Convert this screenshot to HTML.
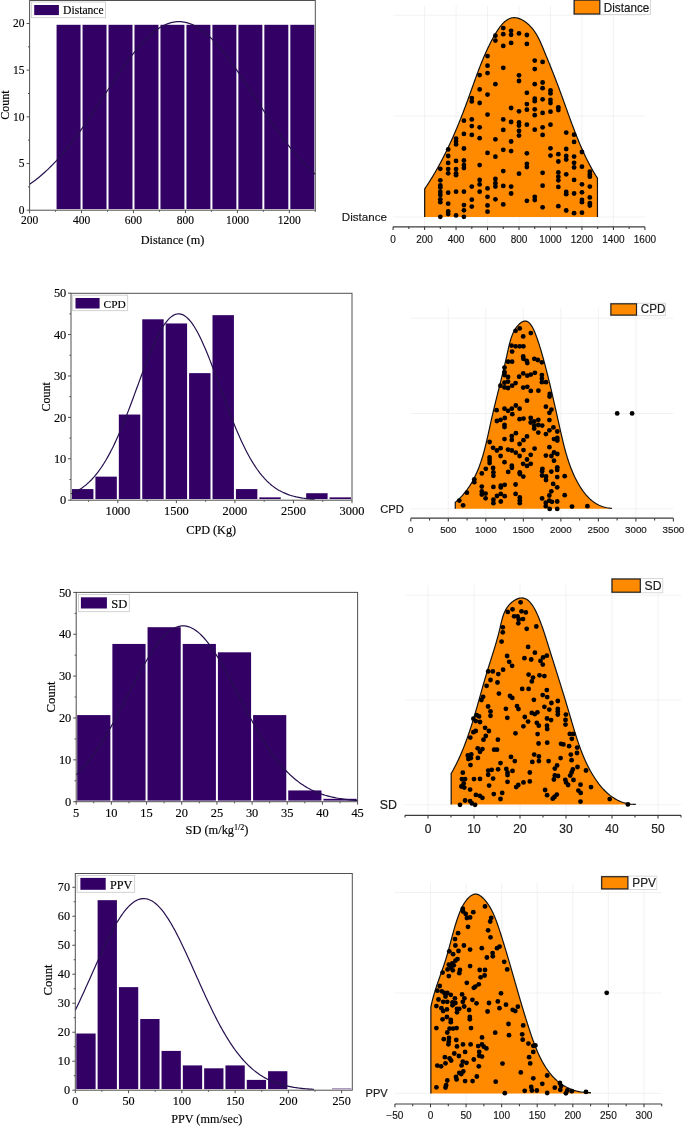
<!DOCTYPE html>
<html><head><meta charset="utf-8"><style>
html,body{margin:0;padding:0;background:#fff;}
svg{display:block;}
text{stroke:#000;stroke-width:0.15px;}
</style></head><body>
<svg width="685" height="1126" viewBox="0 0 685 1126">
<rect width="685" height="1126" fill="#fff"/>
<rect x="56.57" y="24.8" width="23.97" height="184.3" fill="#330066"/>
<rect x="82.55" y="24.8" width="23.97" height="184.3" fill="#330066"/>
<rect x="108.52" y="24.8" width="23.97" height="184.3" fill="#330066"/>
<rect x="134.49" y="24.8" width="23.97" height="184.3" fill="#330066"/>
<rect x="160.46" y="24.8" width="23.97" height="184.3" fill="#330066"/>
<rect x="186.44" y="24.8" width="23.97" height="184.3" fill="#330066"/>
<rect x="212.41" y="24.8" width="23.97" height="184.3" fill="#330066"/>
<rect x="238.38" y="24.8" width="23.97" height="184.3" fill="#330066"/>
<rect x="264.35" y="24.8" width="23.97" height="184.3" fill="#330066"/>
<rect x="290.33" y="24.8" width="23.97" height="184.3" fill="#330066"/>
<polyline points="29.6,184.32 31.03,183.33 32.46,182.3 33.89,181.25 35.31,180.16 36.74,179.05 38.17,177.91 39.6,176.74 41.03,175.54 42.46,174.31 43.89,173.05 45.31,171.75 46.74,170.43 48.17,169.08 49.6,167.69 51.03,166.28 52.46,164.84 53.88,163.36 55.31,161.86 56.74,160.32 58.17,158.75 59.6,157.16 61.03,155.53 62.46,153.88 63.88,152.19 65.31,150.48 66.74,148.74 68.17,146.97 69.6,145.18 71.03,143.36 72.45,141.51 73.88,139.63 75.31,137.74 76.74,135.81 78.17,133.87 79.6,131.9 81.03,129.91 82.45,127.9 83.88,125.87 85.31,123.82 86.74,121.75 88.17,119.67 89.6,117.57 91.03,115.46 92.45,113.34 93.88,111.2 95.31,109.05 96.74,106.89 98.17,104.73 99.6,102.56 101.03,100.38 102.45,98.21 103.88,96.03 105.31,93.85 106.74,91.67 108.17,89.49 109.6,87.32 111.02,85.16 112.45,83 113.88,80.85 115.31,78.72 116.74,76.6 118.17,74.49 119.6,72.4 121.02,70.33 122.45,68.28 123.88,66.25 125.31,64.25 126.74,62.27 128.17,60.32 129.59,58.4 131.02,56.51 132.45,54.65 133.88,52.83 135.31,51.04 136.74,49.29 138.17,47.59 139.59,45.92 141.02,44.3 142.45,42.72 143.88,41.19 145.31,39.7 146.74,38.27 148.17,36.89 149.59,35.56 151.02,34.28 152.45,33.06 153.88,31.89 155.31,30.78 156.74,29.73 158.16,28.75 159.59,27.82 161.02,26.95 162.45,26.15 163.88,25.41 165.31,24.73 166.74,24.12 168.16,23.57 169.59,23.1 171.02,22.68 172.45,22.34 173.88,22.06 175.31,21.85 176.74,21.71 178.16,21.64 179.59,21.64 181.02,21.71 182.45,21.84 183.88,22.04 185.31,22.31 186.73,22.65 188.16,23.06 189.59,23.53 191.02,24.07 192.45,24.67 193.88,25.34 195.31,26.08 196.73,26.87 198.16,27.74 199.59,28.66 201.02,29.64 202.45,30.69 203.88,31.79 205.31,32.95 206.73,34.17 208.16,35.44 209.59,36.76 211.02,38.14 212.45,39.57 213.88,41.05 215.31,42.58 216.73,44.15 218.16,45.77 219.59,47.43 221.02,49.14 222.45,50.88 223.88,52.66 225.3,54.48 226.73,56.34 228.16,58.22 229.59,60.14 231.02,62.09 232.45,64.07 233.88,66.07 235.3,68.09 236.73,70.14 238.16,72.21 239.59,74.3 241.02,76.4 242.45,78.53 243.88,80.66 245.3,82.8 246.73,84.96 248.16,87.12 249.59,89.29 251.02,91.47 252.45,93.65 253.87,95.83 255.3,98.01 256.73,100.19 258.16,102.36 259.59,104.53 261.02,106.7 262.45,108.86 263.87,111 265.3,113.14 266.73,115.27 268.16,117.38 269.59,119.48 271.02,121.57 272.44,123.63 273.87,125.68 275.3,127.72 276.73,129.73 278.16,131.72 279.59,133.69 281.02,135.64 282.44,137.56 283.87,139.46 285.3,141.34 286.73,143.19 288.16,145.01 289.59,146.81 291.02,148.58 292.44,150.33 293.87,152.04 295.3,153.73 296.73,155.38 298.16,157.01 299.59,158.61 301.02,160.18 302.44,161.72 303.87,163.23 305.3,164.7 306.73,166.15 308.16,167.57 309.59,168.95 311.01,170.31 312.44,171.63 313.87,172.93 315.3,174.19" fill="none" stroke="#26104f" stroke-width="1.2"/>
<rect x="29.6" y="0.5" width="285.7" height="209.7" fill="none" stroke="#505050" stroke-width="1"/>
<line x1="26.6" y1="210.2" x2="29.6" y2="210.2" stroke="#505050" stroke-width="1"/>
<line x1="26.6" y1="163.52" x2="29.6" y2="163.52" stroke="#505050" stroke-width="1"/>
<line x1="26.6" y1="116.85" x2="29.6" y2="116.85" stroke="#505050" stroke-width="1"/>
<line x1="26.6" y1="70.17" x2="29.6" y2="70.17" stroke="#505050" stroke-width="1"/>
<line x1="26.6" y1="23.5" x2="29.6" y2="23.5" stroke="#505050" stroke-width="1"/>
<line x1="28" y1="186.86" x2="29.6" y2="186.86" stroke="#505050" stroke-width="1"/>
<line x1="28" y1="140.19" x2="29.6" y2="140.19" stroke="#505050" stroke-width="1"/>
<line x1="28" y1="93.51" x2="29.6" y2="93.51" stroke="#505050" stroke-width="1"/>
<line x1="28" y1="46.84" x2="29.6" y2="46.84" stroke="#505050" stroke-width="1"/>
<line x1="29.6" y1="210.2" x2="29.6" y2="213.2" stroke="#505050" stroke-width="1"/>
<line x1="81.55" y1="210.2" x2="81.55" y2="213.2" stroke="#505050" stroke-width="1"/>
<line x1="133.49" y1="210.2" x2="133.49" y2="213.2" stroke="#505050" stroke-width="1"/>
<line x1="185.44" y1="210.2" x2="185.44" y2="213.2" stroke="#505050" stroke-width="1"/>
<line x1="237.38" y1="210.2" x2="237.38" y2="213.2" stroke="#505050" stroke-width="1"/>
<line x1="289.33" y1="210.2" x2="289.33" y2="213.2" stroke="#505050" stroke-width="1"/>
<line x1="55.57" y1="210.2" x2="55.57" y2="211.8" stroke="#505050" stroke-width="1"/>
<line x1="107.52" y1="210.2" x2="107.52" y2="211.8" stroke="#505050" stroke-width="1"/>
<line x1="159.46" y1="210.2" x2="159.46" y2="211.8" stroke="#505050" stroke-width="1"/>
<line x1="211.41" y1="210.2" x2="211.41" y2="211.8" stroke="#505050" stroke-width="1"/>
<line x1="263.35" y1="210.2" x2="263.35" y2="211.8" stroke="#505050" stroke-width="1"/>
<line x1="315.3" y1="210.2" x2="315.3" y2="211.8" stroke="#505050" stroke-width="1"/>
<rect x="31.3" y="2" width="74.1" height="15.7" fill="#fff" stroke="#c8c8c8" stroke-width="0.8"/>
<rect x="34.2" y="5" width="24.7" height="10.1" fill="#330066"/>
<rect x="72" y="489.08" width="21.42" height="10.02" fill="#330066"/>
<rect x="95.42" y="476.65" width="21.42" height="22.45" fill="#330066"/>
<rect x="118.83" y="414.54" width="21.42" height="84.56" fill="#330066"/>
<rect x="142.25" y="319.3" width="21.42" height="179.8" fill="#330066"/>
<rect x="165.67" y="323.44" width="21.42" height="175.66" fill="#330066"/>
<rect x="189.08" y="373.13" width="21.42" height="125.97" fill="#330066"/>
<rect x="212.5" y="315.16" width="21.42" height="183.94" fill="#330066"/>
<rect x="235.92" y="489.08" width="21.42" height="10.02" fill="#330066"/>
<rect x="259.33" y="497.36" width="21.42" height="1.74" fill="#330066"/>
<rect x="306.17" y="493.22" width="21.42" height="5.88" fill="#330066"/>
<rect x="329.58" y="497.36" width="21.42" height="1.74" fill="#330066"/>
<polyline points="71,493.79 72.22,493.28 73.44,492.75 74.65,492.17 75.87,491.56 77.09,490.91 78.31,490.23 79.52,489.5 80.74,488.72 81.96,487.9 83.18,487.04 84.39,486.12 85.61,485.16 86.83,484.14 88.05,483.07 89.27,481.94 90.48,480.75 91.7,479.51 92.92,478.2 94.14,476.84 95.35,475.41 96.57,473.91 97.79,472.35 99.01,470.72 100.22,469.02 101.44,467.25 102.66,465.42 103.88,463.51 105.09,461.53 106.31,459.48 107.53,457.36 108.75,455.16 109.97,452.9 111.18,450.56 112.4,448.15 113.62,445.68 114.84,443.13 116.05,440.52 117.27,437.84 118.49,435.1 119.71,432.29 120.92,429.43 122.14,426.51 123.36,423.53 124.58,420.51 125.8,417.43 127.01,414.31 128.23,411.15 129.45,407.95 130.67,404.73 131.88,401.47 133.1,398.19 134.32,394.89 135.54,391.58 136.75,388.26 137.97,384.94 139.19,381.63 140.41,378.32 141.62,375.03 142.84,371.76 144.06,368.52 145.28,365.31 146.5,362.15 147.71,359.03 148.93,355.97 150.15,352.97 151.37,350.04 152.58,347.17 153.8,344.39 155.02,341.7 156.24,339.1 157.45,336.59 158.67,334.19 159.89,331.91 161.11,329.73 162.32,327.68 163.54,325.75 164.76,323.96 165.98,322.3 167.2,320.78 168.41,319.4 169.63,318.17 170.85,317.09 172.07,316.16 173.28,315.38 174.5,314.76 175.72,314.3 176.94,314 178.15,313.87 179.37,313.89 180.59,314.07 181.81,314.41 183.03,314.91 184.24,315.57 185.46,316.39 186.68,317.36 187.9,318.48 189.11,319.76 190.33,321.17 191.55,322.73 192.77,324.43 193.98,326.26 195.2,328.22 196.42,330.31 197.64,332.51 198.86,334.83 200.07,337.26 201.29,339.79 202.51,342.42 203.73,345.13 204.94,347.94 206.16,350.82 207.38,353.77 208.6,356.79 209.81,359.87 211.03,363 212.25,366.17 213.47,369.39 214.68,372.64 215.9,375.91 217.12,379.21 218.34,382.52 219.56,385.84 220.77,389.16 221.99,392.47 223.21,395.78 224.43,399.07 225.64,402.35 226.86,405.6 228.08,408.82 229.3,412.01 230.51,415.16 231.73,418.26 232.95,421.33 234.17,424.34 235.38,427.3 236.6,430.21 237.82,433.06 239.04,435.84 240.26,438.57 241.47,441.23 242.69,443.82 243.91,446.35 245.13,448.81 246.34,451.2 247.56,453.52 248.78,455.76 250,457.94 251.21,460.04 252.43,462.07 253.65,464.03 254.87,465.92 256.09,467.74 257.3,469.49 258.52,471.16 259.74,472.78 260.96,474.32 262.17,475.8 263.39,477.21 264.61,478.56 265.83,479.85 267.04,481.08 268.26,482.25 269.48,483.36 270.7,484.42 271.91,485.42 273.13,486.37 274.35,487.28 275.57,488.13 276.79,488.94 278,489.7 279.22,490.42 280.44,491.09 281.66,491.73 282.87,492.33 284.09,492.89 285.31,493.42 286.53,493.92 287.74,494.39 288.96,494.82 290.18,495.23 291.4,495.61 292.62,495.96 293.83,496.29 295.05,496.6 296.27,496.89 297.49,497.15 298.7,497.4 299.92,497.63 301.14,497.84 302.36,498.04 303.57,498.22 304.79,498.39 306.01,498.55 307.23,498.69 308.44,498.82 309.66,498.94 310.88,499.06 312.1,499.16 313.32,499.25 314.53,499.34" fill="none" stroke="#26104f" stroke-width="1.2"/>
<rect x="71" y="293.3" width="281" height="206.9" fill="none" stroke="#505050" stroke-width="1"/>
<line x1="68" y1="500.2" x2="71" y2="500.2" stroke="#505050" stroke-width="1"/>
<line x1="68" y1="458.79" x2="71" y2="458.79" stroke="#505050" stroke-width="1"/>
<line x1="68" y1="417.38" x2="71" y2="417.38" stroke="#505050" stroke-width="1"/>
<line x1="68" y1="375.97" x2="71" y2="375.97" stroke="#505050" stroke-width="1"/>
<line x1="68" y1="334.56" x2="71" y2="334.56" stroke="#505050" stroke-width="1"/>
<line x1="68" y1="293.15" x2="71" y2="293.15" stroke="#505050" stroke-width="1"/>
<line x1="69.4" y1="479.5" x2="71" y2="479.5" stroke="#505050" stroke-width="1"/>
<line x1="69.4" y1="438.08" x2="71" y2="438.08" stroke="#505050" stroke-width="1"/>
<line x1="69.4" y1="396.67" x2="71" y2="396.67" stroke="#505050" stroke-width="1"/>
<line x1="69.4" y1="355.26" x2="71" y2="355.26" stroke="#505050" stroke-width="1"/>
<line x1="69.4" y1="313.86" x2="71" y2="313.86" stroke="#505050" stroke-width="1"/>
<line x1="117.83" y1="500.2" x2="117.83" y2="503.2" stroke="#505050" stroke-width="1"/>
<line x1="176.38" y1="500.2" x2="176.38" y2="503.2" stroke="#505050" stroke-width="1"/>
<line x1="234.92" y1="500.2" x2="234.92" y2="503.2" stroke="#505050" stroke-width="1"/>
<line x1="293.46" y1="500.2" x2="293.46" y2="503.2" stroke="#505050" stroke-width="1"/>
<line x1="352" y1="500.2" x2="352" y2="503.2" stroke="#505050" stroke-width="1"/>
<line x1="88.56" y1="500.2" x2="88.56" y2="501.8" stroke="#505050" stroke-width="1"/>
<line x1="147.1" y1="500.2" x2="147.1" y2="501.8" stroke="#505050" stroke-width="1"/>
<line x1="205.65" y1="500.2" x2="205.65" y2="501.8" stroke="#505050" stroke-width="1"/>
<line x1="264.19" y1="500.2" x2="264.19" y2="501.8" stroke="#505050" stroke-width="1"/>
<line x1="322.73" y1="500.2" x2="322.73" y2="501.8" stroke="#505050" stroke-width="1"/>
<rect x="72.7" y="295.2" width="55" height="15.5" fill="#fff" stroke="#c8c8c8" stroke-width="0.8"/>
<rect x="75.5" y="298" width="24.1" height="10.5" fill="#330066"/>
<rect x="77.2" y="715.09" width="33.17" height="85.51" fill="#330066"/>
<rect x="112.38" y="643.93" width="33.18" height="156.67" fill="#330066"/>
<rect x="147.55" y="627.19" width="33.18" height="173.41" fill="#330066"/>
<rect x="182.73" y="643.93" width="33.18" height="156.67" fill="#330066"/>
<rect x="217.9" y="652.3" width="33.18" height="148.3" fill="#330066"/>
<rect x="253.08" y="715.09" width="33.18" height="85.51" fill="#330066"/>
<rect x="288.25" y="790.44" width="33.18" height="10.16" fill="#330066"/>
<rect x="323.43" y="798.81" width="33.17" height="1.79" fill="#330066"/>
<polyline points="76.2,774.73 77.61,773.37 79.01,771.97 80.42,770.52 81.83,769.02 83.23,767.46 84.64,765.86 86.05,764.21 87.46,762.5 88.86,760.74 90.27,758.94 91.68,757.08 93.08,755.17 94.49,753.22 95.9,751.21 97.31,749.15 98.71,747.05 100.12,744.89 101.53,742.7 102.93,740.45 104.34,738.16 105.75,735.83 107.15,733.46 108.56,731.05 109.97,728.6 111.38,726.12 112.78,723.6 114.19,721.05 115.6,718.47 117,715.86 118.41,713.23 119.82,710.58 121.22,707.91 122.63,705.22 124.04,702.52 125.45,699.82 126.85,697.1 128.26,694.39 129.67,691.67 131.07,688.96 132.48,686.26 133.89,683.56 135.29,680.89 136.7,678.23 138.11,675.6 139.52,673 140.92,670.42 142.33,667.88 143.74,665.39 145.14,662.93 146.55,660.52 147.96,658.17 149.36,655.87 150.77,653.62 152.18,651.45 153.59,649.33 154.99,647.29 156.4,645.33 157.81,643.44 159.21,641.63 160.62,639.91 162.03,638.27 163.43,636.72 164.84,635.27 166.25,633.92 167.66,632.66 169.06,631.5 170.47,630.45 171.88,629.5 173.28,628.66 174.69,627.93 176.1,627.31 177.5,626.8 178.91,626.4 180.32,626.12 181.73,625.95 183.13,625.89 184.54,625.95 185.95,626.12 187.35,626.4 188.76,626.8 190.17,627.31 191.57,627.93 192.98,628.66 194.39,629.5 195.8,630.45 197.2,631.5 198.61,632.66 200.02,633.92 201.42,635.27 202.83,636.72 204.24,638.27 205.64,639.91 207.05,641.63 208.46,643.44 209.87,645.33 211.27,647.29 212.68,649.33 214.09,651.45 215.49,653.62 216.9,655.87 218.31,658.17 219.71,660.52 221.12,662.93 222.53,665.39 223.94,667.88 225.34,670.42 226.75,673 228.16,675.6 229.56,678.23 230.97,680.89 232.38,683.56 233.78,686.26 235.19,688.96 236.6,691.67 238,694.39 239.41,697.1 240.82,699.82 242.23,702.52 243.63,705.22 245.04,707.91 246.45,710.58 247.85,713.23 249.26,715.86 250.67,718.47 252.08,721.05 253.48,723.6 254.89,726.12 256.3,728.6 257.7,731.05 259.11,733.46 260.52,735.83 261.92,738.16 263.33,740.45 264.74,742.7 266.15,744.89 267.55,747.05 268.96,749.15 270.37,751.21 271.77,753.22 273.18,755.17 274.59,757.08 275.99,758.94 277.4,760.74 278.81,762.5 280.22,764.21 281.62,765.86 283.03,767.46 284.44,769.02 285.84,770.52 287.25,771.97 288.66,773.37 290.06,774.73 291.47,776.04 292.88,777.29 294.29,778.51 295.69,779.67 297.1,780.79 298.51,781.87 299.91,782.91 301.32,783.9 302.73,784.85 304.13,785.76 305.54,786.63 306.95,787.46 308.36,788.26 309.76,789.01 311.17,789.74 312.58,790.43 313.98,791.08 315.39,791.71 316.8,792.3 318.2,792.87 319.61,793.4 321.02,793.91 322.43,794.4 323.83,794.85 325.24,795.29 326.65,795.69 328.05,796.08 329.46,796.45 330.87,796.79 332.27,797.12 333.68,797.42 335.09,797.71 336.5,797.98 337.9,798.24 339.31,798.48 340.72,798.7 342.12,798.91 343.53,799.11 344.94,799.3 346.34,799.47 347.75,799.63 349.16,799.78 350.57,799.93 351.97,800.06 353.38,800.18 354.79,800.3 356.19,800.4 357.6,800.5" fill="none" stroke="#26104f" stroke-width="1.2"/>
<rect x="76.2" y="592.4" width="281.4" height="209.3" fill="none" stroke="#505050" stroke-width="1"/>
<line x1="73.2" y1="801.7" x2="76.2" y2="801.7" stroke="#505050" stroke-width="1"/>
<line x1="73.2" y1="759.84" x2="76.2" y2="759.84" stroke="#505050" stroke-width="1"/>
<line x1="73.2" y1="717.98" x2="76.2" y2="717.98" stroke="#505050" stroke-width="1"/>
<line x1="73.2" y1="676.12" x2="76.2" y2="676.12" stroke="#505050" stroke-width="1"/>
<line x1="73.2" y1="634.26" x2="76.2" y2="634.26" stroke="#505050" stroke-width="1"/>
<line x1="73.2" y1="592.4" x2="76.2" y2="592.4" stroke="#505050" stroke-width="1"/>
<line x1="74.6" y1="780.77" x2="76.2" y2="780.77" stroke="#505050" stroke-width="1"/>
<line x1="74.6" y1="738.91" x2="76.2" y2="738.91" stroke="#505050" stroke-width="1"/>
<line x1="74.6" y1="697.05" x2="76.2" y2="697.05" stroke="#505050" stroke-width="1"/>
<line x1="74.6" y1="655.19" x2="76.2" y2="655.19" stroke="#505050" stroke-width="1"/>
<line x1="74.6" y1="613.33" x2="76.2" y2="613.33" stroke="#505050" stroke-width="1"/>
<line x1="76.2" y1="801.7" x2="76.2" y2="804.7" stroke="#505050" stroke-width="1"/>
<line x1="111.38" y1="801.7" x2="111.38" y2="804.7" stroke="#505050" stroke-width="1"/>
<line x1="146.55" y1="801.7" x2="146.55" y2="804.7" stroke="#505050" stroke-width="1"/>
<line x1="181.73" y1="801.7" x2="181.73" y2="804.7" stroke="#505050" stroke-width="1"/>
<line x1="216.9" y1="801.7" x2="216.9" y2="804.7" stroke="#505050" stroke-width="1"/>
<line x1="252.08" y1="801.7" x2="252.08" y2="804.7" stroke="#505050" stroke-width="1"/>
<line x1="287.25" y1="801.7" x2="287.25" y2="804.7" stroke="#505050" stroke-width="1"/>
<line x1="322.43" y1="801.7" x2="322.43" y2="804.7" stroke="#505050" stroke-width="1"/>
<line x1="357.6" y1="801.7" x2="357.6" y2="804.7" stroke="#505050" stroke-width="1"/>
<line x1="93.79" y1="801.7" x2="93.79" y2="803.3" stroke="#505050" stroke-width="1"/>
<line x1="128.96" y1="801.7" x2="128.96" y2="803.3" stroke="#505050" stroke-width="1"/>
<line x1="164.14" y1="801.7" x2="164.14" y2="803.3" stroke="#505050" stroke-width="1"/>
<line x1="199.31" y1="801.7" x2="199.31" y2="803.3" stroke="#505050" stroke-width="1"/>
<line x1="234.49" y1="801.7" x2="234.49" y2="803.3" stroke="#505050" stroke-width="1"/>
<line x1="269.66" y1="801.7" x2="269.66" y2="803.3" stroke="#505050" stroke-width="1"/>
<line x1="304.84" y1="801.7" x2="304.84" y2="803.3" stroke="#505050" stroke-width="1"/>
<line x1="340.01" y1="801.7" x2="340.01" y2="803.3" stroke="#505050" stroke-width="1"/>
<rect x="78.4" y="594.4" width="50.9" height="17.3" fill="#fff" stroke="#c8c8c8" stroke-width="0.8"/>
<rect x="80.9" y="597.3" width="26" height="11.2" fill="#330066"/>
<rect x="76.3" y="1033.52" width="19.31" height="55.58" fill="#330066"/>
<rect x="97.61" y="900.17" width="19.31" height="188.93" fill="#330066"/>
<rect x="118.92" y="987.14" width="19.31" height="101.96" fill="#330066"/>
<rect x="140.22" y="1019.02" width="19.31" height="70.08" fill="#330066"/>
<rect x="161.53" y="1050.91" width="19.31" height="38.19" fill="#330066"/>
<rect x="182.84" y="1065.41" width="19.31" height="23.69" fill="#330066"/>
<rect x="204.15" y="1068.31" width="19.31" height="20.79" fill="#330066"/>
<rect x="225.45" y="1065.41" width="19.31" height="23.69" fill="#330066"/>
<rect x="246.76" y="1079.9" width="19.31" height="9.2" fill="#330066"/>
<rect x="268.07" y="1071.21" width="19.31" height="17.89" fill="#330066"/>
<rect x="331.99" y="1088.6" width="19.31" height="0.5" fill="#330066"/>
<polyline points="75.3,1010.12 76.49,1007.67 77.69,1005.18 78.88,1002.67 80.07,1000.13 81.27,997.57 82.46,994.99 83.65,992.38 84.85,989.76 86.04,987.12 87.23,984.47 88.43,981.81 89.62,979.14 90.81,976.46 92.01,973.78 93.2,971.11 94.39,968.43 95.58,965.76 96.78,963.1 97.97,960.45 99.16,957.82 100.36,955.21 101.55,952.61 102.74,950.05 103.94,947.51 105.13,945 106.32,942.52 107.52,940.09 108.71,937.69 109.9,935.34 111.1,933.03 112.29,930.78 113.48,928.58 114.68,926.43 115.87,924.35 117.06,922.32 118.26,920.37 119.45,918.48 120.64,916.66 121.84,914.92 123.03,913.25 124.22,911.66 125.42,910.16 126.61,908.73 127.8,907.4 129,906.15 130.19,904.99 131.38,903.92 132.58,902.95 133.77,902.07 134.96,901.28 136.15,900.6 137.35,900.01 138.54,899.52 139.73,899.14 140.93,898.85 142.12,898.66 143.31,898.58 144.51,898.6 145.7,898.72 146.89,898.94 148.09,899.26 149.28,899.69 150.47,900.21 151.67,900.83 152.86,901.55 154.05,902.37 155.25,903.28 156.44,904.29 157.63,905.39 158.83,906.58 160.02,907.86 161.21,909.23 162.41,910.68 163.6,912.22 164.79,913.84 165.99,915.53 167.18,917.3 168.37,919.14 169.57,921.06 170.76,923.04 171.95,925.08 173.14,927.19 174.34,929.36 175.53,931.58 176.72,933.85 177.92,936.17 179.11,938.54 180.3,940.95 181.5,943.4 182.69,945.89 183.88,948.41 185.08,950.96 186.27,953.54 187.46,956.14 188.66,958.76 189.85,961.4 191.04,964.05 192.24,966.71 193.43,969.39 194.62,972.06 195.82,974.74 197.01,977.42 198.2,980.09 199.4,982.76 200.59,985.42 201.78,988.06 202.98,990.7 204.17,993.31 205.36,995.91 206.56,998.49 207.75,1001.04 208.94,1003.57 210.14,1006.07 211.33,1008.55 212.52,1010.99 213.71,1013.4 214.91,1015.77 216.1,1018.12 217.29,1020.42 218.49,1022.69 219.68,1024.91 220.87,1027.1 222.07,1029.25 223.26,1031.35 224.45,1033.42 225.65,1035.44 226.84,1037.41 228.03,1039.34 229.23,1041.23 230.42,1043.07 231.61,1044.87 232.81,1046.62 234,1048.32 235.19,1049.98 236.39,1051.6 237.58,1053.17 238.77,1054.69 239.97,1056.17 241.16,1057.61 242.35,1059 243.55,1060.35 244.74,1061.66 245.93,1062.92 247.13,1064.14 248.32,1065.32 249.51,1066.46 250.7,1067.55 251.9,1068.61 253.09,1069.63 254.28,1070.62 255.48,1071.56 256.67,1072.47 257.86,1073.34 259.06,1074.18 260.25,1074.99 261.44,1075.76 262.64,1076.5 263.83,1077.21 265.02,1077.89 266.22,1078.54 267.41,1079.16 268.6,1079.76 269.8,1080.33 270.99,1080.87 272.18,1081.38 273.38,1081.88 274.57,1082.34 275.76,1082.79 276.96,1083.22 278.15,1083.62 279.34,1084 280.54,1084.37 281.73,1084.71 282.92,1085.04 284.12,1085.35 285.31,1085.65 286.5,1085.93 287.7,1086.19 288.89,1086.44 290.08,1086.68 291.27,1086.9 292.47,1087.11 293.66,1087.31 294.85,1087.5 296.05,1087.67 297.24,1087.84 298.43,1088 299.63,1088.14 300.82,1088.28 302.01,1088.41 303.21,1088.53 304.4,1088.65 305.59,1088.76 306.79,1088.86 307.98,1088.95 309.17,1089.04 310.37,1089.12 311.56,1089.2 312.75,1089.27 313.95,1089.34" fill="none" stroke="#26104f" stroke-width="1.2"/>
<rect x="75.3" y="873.5" width="277" height="216.7" fill="none" stroke="#505050" stroke-width="1"/>
<line x1="72.3" y1="1090.2" x2="75.3" y2="1090.2" stroke="#505050" stroke-width="1"/>
<line x1="72.3" y1="1061.21" x2="75.3" y2="1061.21" stroke="#505050" stroke-width="1"/>
<line x1="72.3" y1="1032.22" x2="75.3" y2="1032.22" stroke="#505050" stroke-width="1"/>
<line x1="72.3" y1="1003.23" x2="75.3" y2="1003.23" stroke="#505050" stroke-width="1"/>
<line x1="72.3" y1="974.24" x2="75.3" y2="974.24" stroke="#505050" stroke-width="1"/>
<line x1="72.3" y1="945.25" x2="75.3" y2="945.25" stroke="#505050" stroke-width="1"/>
<line x1="72.3" y1="916.26" x2="75.3" y2="916.26" stroke="#505050" stroke-width="1"/>
<line x1="72.3" y1="887.27" x2="75.3" y2="887.27" stroke="#505050" stroke-width="1"/>
<line x1="73.7" y1="1075.71" x2="75.3" y2="1075.71" stroke="#505050" stroke-width="1"/>
<line x1="73.7" y1="1046.72" x2="75.3" y2="1046.72" stroke="#505050" stroke-width="1"/>
<line x1="73.7" y1="1017.73" x2="75.3" y2="1017.73" stroke="#505050" stroke-width="1"/>
<line x1="73.7" y1="988.74" x2="75.3" y2="988.74" stroke="#505050" stroke-width="1"/>
<line x1="73.7" y1="959.75" x2="75.3" y2="959.75" stroke="#505050" stroke-width="1"/>
<line x1="73.7" y1="930.76" x2="75.3" y2="930.76" stroke="#505050" stroke-width="1"/>
<line x1="73.7" y1="901.77" x2="75.3" y2="901.77" stroke="#505050" stroke-width="1"/>
<line x1="75.3" y1="1090.2" x2="75.3" y2="1093.2" stroke="#505050" stroke-width="1"/>
<line x1="128.57" y1="1090.2" x2="128.57" y2="1093.2" stroke="#505050" stroke-width="1"/>
<line x1="181.84" y1="1090.2" x2="181.84" y2="1093.2" stroke="#505050" stroke-width="1"/>
<line x1="235.11" y1="1090.2" x2="235.11" y2="1093.2" stroke="#505050" stroke-width="1"/>
<line x1="288.38" y1="1090.2" x2="288.38" y2="1093.2" stroke="#505050" stroke-width="1"/>
<line x1="341.65" y1="1090.2" x2="341.65" y2="1093.2" stroke="#505050" stroke-width="1"/>
<line x1="101.93" y1="1090.2" x2="101.93" y2="1091.8" stroke="#505050" stroke-width="1"/>
<line x1="155.2" y1="1090.2" x2="155.2" y2="1091.8" stroke="#505050" stroke-width="1"/>
<line x1="208.47" y1="1090.2" x2="208.47" y2="1091.8" stroke="#505050" stroke-width="1"/>
<line x1="261.74" y1="1090.2" x2="261.74" y2="1091.8" stroke="#505050" stroke-width="1"/>
<line x1="315.01" y1="1090.2" x2="315.01" y2="1091.8" stroke="#505050" stroke-width="1"/>
<rect x="77.1" y="875.4" width="57.6" height="16.9" fill="#fff" stroke="#c8c8c8" stroke-width="0.8"/>
<rect x="80.4" y="877.9" width="25.3" height="11.9" fill="#330066"/>
<line x1="424.58" y1="5.5" x2="424.58" y2="226.8" stroke="#efefef" stroke-width="0.8"/>
<line x1="456.05" y1="5.5" x2="456.05" y2="226.8" stroke="#efefef" stroke-width="0.8"/>
<line x1="487.52" y1="5.5" x2="487.52" y2="226.8" stroke="#efefef" stroke-width="0.8"/>
<line x1="519" y1="5.5" x2="519" y2="226.8" stroke="#efefef" stroke-width="0.8"/>
<line x1="550.48" y1="5.5" x2="550.48" y2="226.8" stroke="#efefef" stroke-width="0.8"/>
<line x1="581.95" y1="5.5" x2="581.95" y2="226.8" stroke="#efefef" stroke-width="0.8"/>
<line x1="613.42" y1="5.5" x2="613.42" y2="226.8" stroke="#efefef" stroke-width="0.8"/>
<line x1="393.1" y1="15.2" x2="644.9" y2="15.2" stroke="#efefef" stroke-width="0.8"/>
<line x1="393.1" y1="116.1" x2="644.9" y2="116.1" stroke="#efefef" stroke-width="0.8"/>
<line x1="393.1" y1="217" x2="644.9" y2="217" stroke="#efefef" stroke-width="0.8"/>
<path d="M424.68,217 L424.68,188.91 L425.4,187.85 L426.11,186.79 L426.82,185.73 L427.52,184.66 L428.22,183.59 L428.91,182.52 L429.6,181.44 L430.28,180.36 L430.95,179.28 L431.63,178.19 L432.29,177.1 L432.95,176 L433.61,174.9 L434.26,173.8 L434.91,172.7 L435.56,171.59 L436.19,170.48 L436.83,169.37 L437.46,168.25 L438.08,167.13 L438.7,166.01 L439.32,164.88 L439.93,163.75 L440.54,162.62 L441.14,161.49 L441.74,160.35 L442.34,159.21 L442.93,158.07 L443.51,156.93 L444.1,155.78 L444.68,154.64 L445.25,153.48 L445.82,152.33 L446.39,151.18 L446.95,150.02 L447.51,148.86 L448.07,147.7 L448.62,146.54 L449.16,145.37 L449.71,144.2 L450.25,143.04 L450.79,141.86 L451.32,140.69 L451.85,139.52 L452.38,138.34 L452.9,137.17 L453.42,135.99 L453.94,134.81 L454.45,133.62 L454.96,132.44 L455.47,131.26 L455.97,130.07 L456.47,128.88 L456.97,127.7 L457.47,126.51 L457.96,125.32 L458.45,124.13 L458.93,122.93 L459.42,121.74 L459.9,120.55 L460.38,119.35 L460.85,118.16 L461.32,116.96 L461.79,115.76 L462.26,114.57 L462.73,113.37 L463.19,112.17 L463.65,110.97 L464.11,109.77 L464.56,108.57 L465.01,107.37 L465.46,106.17 L465.91,104.97 L466.36,103.77 L466.8,102.57 L467.24,101.37 L467.68,100.17 L468.12,98.97 L468.56,97.77 L468.99,96.57 L469.42,95.37 L469.85,94.17 L470.28,92.97 L470.71,91.77 L471.14,90.57 L471.57,89.38 L471.99,88.18 L472.42,86.98 L472.85,85.78 L473.28,84.58 L473.7,83.38 L474.13,82.18 L474.57,80.98 L475,79.78 L475.43,78.59 L475.87,77.39 L476.31,76.19 L476.75,74.99 L477.19,73.79 L477.64,72.59 L478.09,71.39 L478.55,70.19 L479.01,69 L479.47,67.8 L479.94,66.6 L480.41,65.4 L480.89,64.2 L481.37,63 L481.86,61.8 L482.35,60.6 L482.85,59.4 L483.35,58.2 L483.86,56.99 L484.38,55.79 L484.91,54.59 L485.44,53.39 L485.98,52.19 L486.53,50.99 L487.09,49.78 L487.65,48.58 L488.22,47.38 L488.8,46.17 L489.4,44.97 L489.99,43.76 L490.6,42.56 L491.22,41.35 L491.85,40.15 L492.49,38.94 L493.14,37.74 L493.8,36.54 L494.48,35.34 L495.16,34.16 L495.85,32.99 L496.56,31.85 L497.28,30.72 L498.01,29.61 L498.76,28.54 L499.51,27.49 L500.28,26.48 L501.07,25.51 L501.86,24.57 L502.67,23.68 L503.5,22.84 L504.34,22.05 L505.19,21.32 L506.06,20.64 L506.95,20.02 L507.84,19.47 L508.76,18.98 L509.69,18.56 L510.64,18.22 L511.6,17.95 L512.58,17.77 L513.58,17.67 L514.6,17.65 L515.63,17.73 L516.67,17.89 L517.73,18.13 L518.79,18.44 L519.86,18.83 L520.93,19.3 L521.99,19.83 L523.06,20.42 L524.12,21.08 L525.16,21.79 L526.2,22.55 L527.22,23.37 L528.22,24.24 L529.2,25.15 L530.15,26.1 L531.08,27.08 L531.98,28.11 L532.85,29.16 L533.68,30.24 L534.47,31.34 L535.24,32.47 L535.97,33.62 L536.67,34.78 L537.34,35.97 L537.99,37.17 L538.62,38.38 L539.22,39.6 L539.81,40.83 L540.38,42.07 L540.93,43.31 L541.48,44.56 L542.01,45.81 L542.53,47.05 L543.05,48.29 L543.57,49.53 L544.08,50.77 L544.59,51.99 L545.09,53.22 L545.6,54.44 L546.1,55.65 L546.59,56.86 L547.09,58.07 L547.58,59.27 L548.07,60.47 L548.55,61.66 L549.04,62.86 L549.52,64.05 L550,65.23 L550.47,66.42 L550.95,67.6 L551.42,68.78 L551.89,69.96 L552.35,71.13 L552.82,72.31 L553.28,73.48 L553.74,74.65 L554.2,75.83 L554.66,77 L555.12,78.17 L555.57,79.34 L556.02,80.51 L556.47,81.69 L556.92,82.86 L557.37,84.03 L557.81,85.21 L558.26,86.38 L558.7,87.56 L559.14,88.74 L559.58,89.92 L560.02,91.1 L560.46,92.28 L560.89,93.47 L561.33,94.66 L561.77,95.85 L562.2,97.05 L562.63,98.25 L563.07,99.44 L563.5,100.64 L563.93,101.85 L564.36,103.05 L564.8,104.25 L565.23,105.46 L565.66,106.67 L566.1,107.88 L566.53,109.09 L566.97,110.3 L567.4,111.51 L567.84,112.72 L568.27,113.94 L568.71,115.15 L569.15,116.36 L569.59,117.58 L570.04,118.79 L570.48,120.01 L570.93,121.22 L571.37,122.43 L571.82,123.65 L572.28,124.86 L572.73,126.07 L573.19,127.29 L573.65,128.5 L574.11,129.71 L574.57,130.92 L575.04,132.12 L575.51,133.33 L575.98,134.54 L576.46,135.74 L576.94,136.94 L577.42,138.14 L577.91,139.34 L578.4,140.54 L578.89,141.73 L579.39,142.93 L579.89,144.12 L580.4,145.31 L580.91,146.49 L581.43,147.67 L581.95,148.85 L582.47,150.03 L583,151.21 L583.53,152.38 L584.07,153.54 L584.62,154.71 L585.17,155.87 L585.72,157.03 L586.28,158.18 L586.85,159.33 L587.42,160.48 L588,161.62 L588.58,162.76 L589.17,163.89 L589.77,165.02 L590.37,166.15 L590.98,167.27 L591.6,168.38 L592.22,169.49 L592.85,170.6 L593.48,171.7 L594.13,172.8 L594.78,173.89 L595.44,174.97 L596.1,176.05 L596.78,177.13 L597.46,178.19 L597.46,217 Z" fill="#ff8a00" stroke="none"/>
<path d="M424.68,217 L424.68,188.91 L425.4,187.85 L426.11,186.79 L426.82,185.73 L427.52,184.66 L428.22,183.59 L428.91,182.52 L429.6,181.44 L430.28,180.36 L430.95,179.28 L431.63,178.19 L432.29,177.1 L432.95,176 L433.61,174.9 L434.26,173.8 L434.91,172.7 L435.56,171.59 L436.19,170.48 L436.83,169.37 L437.46,168.25 L438.08,167.13 L438.7,166.01 L439.32,164.88 L439.93,163.75 L440.54,162.62 L441.14,161.49 L441.74,160.35 L442.34,159.21 L442.93,158.07 L443.51,156.93 L444.1,155.78 L444.68,154.64 L445.25,153.48 L445.82,152.33 L446.39,151.18 L446.95,150.02 L447.51,148.86 L448.07,147.7 L448.62,146.54 L449.16,145.37 L449.71,144.2 L450.25,143.04 L450.79,141.86 L451.32,140.69 L451.85,139.52 L452.38,138.34 L452.9,137.17 L453.42,135.99 L453.94,134.81 L454.45,133.62 L454.96,132.44 L455.47,131.26 L455.97,130.07 L456.47,128.88 L456.97,127.7 L457.47,126.51 L457.96,125.32 L458.45,124.13 L458.93,122.93 L459.42,121.74 L459.9,120.55 L460.38,119.35 L460.85,118.16 L461.32,116.96 L461.79,115.76 L462.26,114.57 L462.73,113.37 L463.19,112.17 L463.65,110.97 L464.11,109.77 L464.56,108.57 L465.01,107.37 L465.46,106.17 L465.91,104.97 L466.36,103.77 L466.8,102.57 L467.24,101.37 L467.68,100.17 L468.12,98.97 L468.56,97.77 L468.99,96.57 L469.42,95.37 L469.85,94.17 L470.28,92.97 L470.71,91.77 L471.14,90.57 L471.57,89.38 L471.99,88.18 L472.42,86.98 L472.85,85.78 L473.28,84.58 L473.7,83.38 L474.13,82.18 L474.57,80.98 L475,79.78 L475.43,78.59 L475.87,77.39 L476.31,76.19 L476.75,74.99 L477.19,73.79 L477.64,72.59 L478.09,71.39 L478.55,70.19 L479.01,69 L479.47,67.8 L479.94,66.6 L480.41,65.4 L480.89,64.2 L481.37,63 L481.86,61.8 L482.35,60.6 L482.85,59.4 L483.35,58.2 L483.86,56.99 L484.38,55.79 L484.91,54.59 L485.44,53.39 L485.98,52.19 L486.53,50.99 L487.09,49.78 L487.65,48.58 L488.22,47.38 L488.8,46.17 L489.4,44.97 L489.99,43.76 L490.6,42.56 L491.22,41.35 L491.85,40.15 L492.49,38.94 L493.14,37.74 L493.8,36.54 L494.48,35.34 L495.16,34.16 L495.85,32.99 L496.56,31.85 L497.28,30.72 L498.01,29.61 L498.76,28.54 L499.51,27.49 L500.28,26.48 L501.07,25.51 L501.86,24.57 L502.67,23.68 L503.5,22.84 L504.34,22.05 L505.19,21.32 L506.06,20.64 L506.95,20.02 L507.84,19.47 L508.76,18.98 L509.69,18.56 L510.64,18.22 L511.6,17.95 L512.58,17.77 L513.58,17.67 L514.6,17.65 L515.63,17.73 L516.67,17.89 L517.73,18.13 L518.79,18.44 L519.86,18.83 L520.93,19.3 L521.99,19.83 L523.06,20.42 L524.12,21.08 L525.16,21.79 L526.2,22.55 L527.22,23.37 L528.22,24.24 L529.2,25.15 L530.15,26.1 L531.08,27.08 L531.98,28.11 L532.85,29.16 L533.68,30.24 L534.47,31.34 L535.24,32.47 L535.97,33.62 L536.67,34.78 L537.34,35.97 L537.99,37.17 L538.62,38.38 L539.22,39.6 L539.81,40.83 L540.38,42.07 L540.93,43.31 L541.48,44.56 L542.01,45.81 L542.53,47.05 L543.05,48.29 L543.57,49.53 L544.08,50.77 L544.59,51.99 L545.09,53.22 L545.6,54.44 L546.1,55.65 L546.59,56.86 L547.09,58.07 L547.58,59.27 L548.07,60.47 L548.55,61.66 L549.04,62.86 L549.52,64.05 L550,65.23 L550.47,66.42 L550.95,67.6 L551.42,68.78 L551.89,69.96 L552.35,71.13 L552.82,72.31 L553.28,73.48 L553.74,74.65 L554.2,75.83 L554.66,77 L555.12,78.17 L555.57,79.34 L556.02,80.51 L556.47,81.69 L556.92,82.86 L557.37,84.03 L557.81,85.21 L558.26,86.38 L558.7,87.56 L559.14,88.74 L559.58,89.92 L560.02,91.1 L560.46,92.28 L560.89,93.47 L561.33,94.66 L561.77,95.85 L562.2,97.05 L562.63,98.25 L563.07,99.44 L563.5,100.64 L563.93,101.85 L564.36,103.05 L564.8,104.25 L565.23,105.46 L565.66,106.67 L566.1,107.88 L566.53,109.09 L566.97,110.3 L567.4,111.51 L567.84,112.72 L568.27,113.94 L568.71,115.15 L569.15,116.36 L569.59,117.58 L570.04,118.79 L570.48,120.01 L570.93,121.22 L571.37,122.43 L571.82,123.65 L572.28,124.86 L572.73,126.07 L573.19,127.29 L573.65,128.5 L574.11,129.71 L574.57,130.92 L575.04,132.12 L575.51,133.33 L575.98,134.54 L576.46,135.74 L576.94,136.94 L577.42,138.14 L577.91,139.34 L578.4,140.54 L578.89,141.73 L579.39,142.93 L579.89,144.12 L580.4,145.31 L580.91,146.49 L581.43,147.67 L581.95,148.85 L582.47,150.03 L583,151.21 L583.53,152.38 L584.07,153.54 L584.62,154.71 L585.17,155.87 L585.72,157.03 L586.28,158.18 L586.85,159.33 L587.42,160.48 L588,161.62 L588.58,162.76 L589.17,163.89 L589.77,165.02 L590.37,166.15 L590.98,167.27 L591.6,168.38 L592.22,169.49 L592.85,170.6 L593.48,171.7 L594.13,172.8 L594.78,173.89 L595.44,174.97 L596.1,176.05 L596.78,177.13 L597.46,178.19 L597.46,217" fill="none" stroke="#111" stroke-width="1.2"/>
<circle cx="440.31" cy="168.8" r="2.4" fill="#000"/>
<circle cx="440.31" cy="180.3" r="2.4" fill="#000"/>
<circle cx="440.31" cy="185.4" r="2.4" fill="#000"/>
<circle cx="440.31" cy="187.6" r="2.4" fill="#000"/>
<circle cx="440.31" cy="192" r="2.4" fill="#000"/>
<circle cx="440.31" cy="194.9" r="2.4" fill="#000"/>
<circle cx="440.31" cy="199.3" r="2.4" fill="#000"/>
<circle cx="440.31" cy="202.2" r="2.4" fill="#000"/>
<circle cx="440.31" cy="216.8" r="2.4" fill="#000"/>
<circle cx="448.18" cy="149.4" r="2.4" fill="#000"/>
<circle cx="448.18" cy="156" r="2.4" fill="#000"/>
<circle cx="448.18" cy="162.9" r="2.4" fill="#000"/>
<circle cx="448.18" cy="169.1" r="2.4" fill="#000"/>
<circle cx="448.18" cy="173.3" r="2.4" fill="#000"/>
<circle cx="448.18" cy="192.7" r="2.4" fill="#000"/>
<circle cx="448.18" cy="203.7" r="2.4" fill="#000"/>
<circle cx="448.18" cy="211.5" r="2.4" fill="#000"/>
<circle cx="448.18" cy="214" r="2.4" fill="#000"/>
<circle cx="456.05" cy="138.6" r="2.4" fill="#000"/>
<circle cx="456.05" cy="141.5" r="2.4" fill="#000"/>
<circle cx="456.05" cy="144.4" r="2.4" fill="#000"/>
<circle cx="456.05" cy="160.9" r="2.4" fill="#000"/>
<circle cx="456.05" cy="169.1" r="2.4" fill="#000"/>
<circle cx="456.05" cy="173.3" r="2.4" fill="#000"/>
<circle cx="456.05" cy="175.2" r="2.4" fill="#000"/>
<circle cx="456.05" cy="191.7" r="2.4" fill="#000"/>
<circle cx="456.05" cy="215.4" r="2.4" fill="#000"/>
<circle cx="463.92" cy="120.7" r="2.4" fill="#000"/>
<circle cx="463.92" cy="133.9" r="2.4" fill="#000"/>
<circle cx="463.92" cy="148.5" r="2.4" fill="#000"/>
<circle cx="463.92" cy="160.5" r="2.4" fill="#000"/>
<circle cx="463.92" cy="165.1" r="2.4" fill="#000"/>
<circle cx="463.92" cy="168" r="2.4" fill="#000"/>
<circle cx="463.92" cy="191.7" r="2.4" fill="#000"/>
<circle cx="463.92" cy="205.1" r="2.4" fill="#000"/>
<circle cx="463.92" cy="210.3" r="2.4" fill="#000"/>
<circle cx="463.92" cy="216.8" r="2.4" fill="#000"/>
<circle cx="471.79" cy="98.1" r="2.4" fill="#000"/>
<circle cx="471.79" cy="101.4" r="2.4" fill="#000"/>
<circle cx="471.79" cy="119.4" r="2.4" fill="#000"/>
<circle cx="471.79" cy="126.1" r="2.4" fill="#000"/>
<circle cx="471.79" cy="134.9" r="2.4" fill="#000"/>
<circle cx="471.79" cy="186.6" r="2.4" fill="#000"/>
<circle cx="471.79" cy="199.7" r="2.4" fill="#000"/>
<circle cx="471.79" cy="206.6" r="2.4" fill="#000"/>
<circle cx="479.66" cy="75.1" r="2.4" fill="#000"/>
<circle cx="479.66" cy="89.4" r="2.4" fill="#000"/>
<circle cx="479.66" cy="103" r="2.4" fill="#000"/>
<circle cx="479.66" cy="127.3" r="2.4" fill="#000"/>
<circle cx="479.66" cy="138.2" r="2.4" fill="#000"/>
<circle cx="479.66" cy="165.1" r="2.4" fill="#000"/>
<circle cx="479.66" cy="180" r="2.4" fill="#000"/>
<circle cx="479.66" cy="184.4" r="2.4" fill="#000"/>
<circle cx="479.66" cy="191.7" r="2.4" fill="#000"/>
<circle cx="487.53" cy="56.1" r="2.4" fill="#000"/>
<circle cx="487.53" cy="65.7" r="2.4" fill="#000"/>
<circle cx="487.53" cy="73.1" r="2.4" fill="#000"/>
<circle cx="487.53" cy="94.6" r="2.4" fill="#000"/>
<circle cx="487.53" cy="114.6" r="2.4" fill="#000"/>
<circle cx="487.53" cy="152.9" r="2.4" fill="#000"/>
<circle cx="487.53" cy="188.4" r="2.4" fill="#000"/>
<circle cx="487.53" cy="196.8" r="2.4" fill="#000"/>
<circle cx="487.53" cy="205.4" r="2.4" fill="#000"/>
<circle cx="487.53" cy="211.7" r="2.4" fill="#000"/>
<circle cx="495.4" cy="35.7" r="2.4" fill="#000"/>
<circle cx="495.4" cy="40.6" r="2.4" fill="#000"/>
<circle cx="495.4" cy="84.2" r="2.4" fill="#000"/>
<circle cx="495.4" cy="139.3" r="2.4" fill="#000"/>
<circle cx="495.4" cy="156.7" r="2.4" fill="#000"/>
<circle cx="495.4" cy="178.9" r="2.4" fill="#000"/>
<circle cx="495.4" cy="183.2" r="2.4" fill="#000"/>
<circle cx="495.4" cy="186.6" r="2.4" fill="#000"/>
<circle cx="495.4" cy="199.3" r="2.4" fill="#000"/>
<circle cx="503.27" cy="28.1" r="2.4" fill="#000"/>
<circle cx="503.27" cy="34.2" r="2.4" fill="#000"/>
<circle cx="503.27" cy="45.9" r="2.4" fill="#000"/>
<circle cx="503.27" cy="67.8" r="2.4" fill="#000"/>
<circle cx="503.27" cy="119.4" r="2.4" fill="#000"/>
<circle cx="503.27" cy="129.9" r="2.4" fill="#000"/>
<circle cx="503.27" cy="149.8" r="2.4" fill="#000"/>
<circle cx="503.27" cy="171.1" r="2.4" fill="#000"/>
<circle cx="503.27" cy="185.9" r="2.4" fill="#000"/>
<circle cx="503.27" cy="204.4" r="2.4" fill="#000"/>
<circle cx="511.13" cy="30.8" r="2.4" fill="#000"/>
<circle cx="511.13" cy="34.8" r="2.4" fill="#000"/>
<circle cx="511.13" cy="42.9" r="2.4" fill="#000"/>
<circle cx="511.13" cy="108" r="2.4" fill="#000"/>
<circle cx="511.13" cy="122" r="2.4" fill="#000"/>
<circle cx="511.13" cy="141.5" r="2.4" fill="#000"/>
<circle cx="511.13" cy="151.1" r="2.4" fill="#000"/>
<circle cx="511.13" cy="186.6" r="2.4" fill="#000"/>
<circle cx="511.13" cy="193.5" r="2.4" fill="#000"/>
<circle cx="519" cy="33.4" r="2.4" fill="#000"/>
<circle cx="519" cy="75.3" r="2.4" fill="#000"/>
<circle cx="519" cy="81" r="2.4" fill="#000"/>
<circle cx="519" cy="111.3" r="2.4" fill="#000"/>
<circle cx="519" cy="122.5" r="2.4" fill="#000"/>
<circle cx="519" cy="125.5" r="2.4" fill="#000"/>
<circle cx="519" cy="131" r="2.4" fill="#000"/>
<circle cx="519" cy="135.6" r="2.4" fill="#000"/>
<circle cx="519" cy="173.7" r="2.4" fill="#000"/>
<circle cx="526.87" cy="35" r="2.4" fill="#000"/>
<circle cx="526.87" cy="43.9" r="2.4" fill="#000"/>
<circle cx="526.87" cy="92.8" r="2.4" fill="#000"/>
<circle cx="526.87" cy="104.1" r="2.4" fill="#000"/>
<circle cx="526.87" cy="109.7" r="2.4" fill="#000"/>
<circle cx="526.87" cy="124.7" r="2.4" fill="#000"/>
<circle cx="526.87" cy="153.3" r="2.4" fill="#000"/>
<circle cx="526.87" cy="163.8" r="2.4" fill="#000"/>
<circle cx="526.87" cy="167.1" r="2.4" fill="#000"/>
<circle cx="526.87" cy="200.8" r="2.4" fill="#000"/>
<circle cx="534.74" cy="60.6" r="2.4" fill="#000"/>
<circle cx="534.74" cy="69.1" r="2.4" fill="#000"/>
<circle cx="534.74" cy="84.2" r="2.4" fill="#000"/>
<circle cx="534.74" cy="98.7" r="2.4" fill="#000"/>
<circle cx="534.74" cy="101.2" r="2.4" fill="#000"/>
<circle cx="534.74" cy="109.3" r="2.4" fill="#000"/>
<circle cx="534.74" cy="115.2" r="2.4" fill="#000"/>
<circle cx="534.74" cy="129.7" r="2.4" fill="#000"/>
<circle cx="534.74" cy="196.8" r="2.4" fill="#000"/>
<circle cx="534.74" cy="200" r="2.4" fill="#000"/>
<circle cx="542.61" cy="61.9" r="2.4" fill="#000"/>
<circle cx="542.61" cy="82.5" r="2.4" fill="#000"/>
<circle cx="542.61" cy="88.2" r="2.4" fill="#000"/>
<circle cx="542.61" cy="99.3" r="2.4" fill="#000"/>
<circle cx="542.61" cy="112.9" r="2.4" fill="#000"/>
<circle cx="542.61" cy="127.3" r="2.4" fill="#000"/>
<circle cx="542.61" cy="134.9" r="2.4" fill="#000"/>
<circle cx="542.61" cy="172.8" r="2.4" fill="#000"/>
<circle cx="542.61" cy="185.7" r="2.4" fill="#000"/>
<circle cx="542.61" cy="207.3" r="2.4" fill="#000"/>
<circle cx="550.48" cy="90.4" r="2.4" fill="#000"/>
<circle cx="550.48" cy="93.4" r="2.4" fill="#000"/>
<circle cx="550.48" cy="100" r="2.4" fill="#000"/>
<circle cx="550.48" cy="103.1" r="2.4" fill="#000"/>
<circle cx="550.48" cy="111.7" r="2.4" fill="#000"/>
<circle cx="550.48" cy="124.7" r="2.4" fill="#000"/>
<circle cx="550.48" cy="148.3" r="2.4" fill="#000"/>
<circle cx="550.48" cy="155.6" r="2.4" fill="#000"/>
<circle cx="558.35" cy="107.3" r="2.4" fill="#000"/>
<circle cx="558.35" cy="110" r="2.4" fill="#000"/>
<circle cx="558.35" cy="154.2" r="2.4" fill="#000"/>
<circle cx="558.35" cy="161.5" r="2.4" fill="#000"/>
<circle cx="558.35" cy="172.4" r="2.4" fill="#000"/>
<circle cx="558.35" cy="176.7" r="2.4" fill="#000"/>
<circle cx="558.35" cy="180.3" r="2.4" fill="#000"/>
<circle cx="558.35" cy="186.9" r="2.4" fill="#000"/>
<circle cx="558.35" cy="206.2" r="2.4" fill="#000"/>
<circle cx="566.22" cy="132.6" r="2.4" fill="#000"/>
<circle cx="566.22" cy="149" r="2.4" fill="#000"/>
<circle cx="566.22" cy="156" r="2.4" fill="#000"/>
<circle cx="566.22" cy="159.5" r="2.4" fill="#000"/>
<circle cx="566.22" cy="174.3" r="2.4" fill="#000"/>
<circle cx="566.22" cy="192" r="2.4" fill="#000"/>
<circle cx="566.22" cy="194.2" r="2.4" fill="#000"/>
<circle cx="566.22" cy="210.5" r="2.4" fill="#000"/>
<circle cx="574.09" cy="134.7" r="2.4" fill="#000"/>
<circle cx="574.09" cy="141.9" r="2.4" fill="#000"/>
<circle cx="574.09" cy="156.6" r="2.4" fill="#000"/>
<circle cx="574.09" cy="162.8" r="2.4" fill="#000"/>
<circle cx="574.09" cy="167.4" r="2.4" fill="#000"/>
<circle cx="574.09" cy="179.9" r="2.4" fill="#000"/>
<circle cx="574.09" cy="193.5" r="2.4" fill="#000"/>
<circle cx="574.09" cy="213.2" r="2.4" fill="#000"/>
<circle cx="581.96" cy="152" r="2.4" fill="#000"/>
<circle cx="581.96" cy="166.7" r="2.4" fill="#000"/>
<circle cx="581.96" cy="184.3" r="2.4" fill="#000"/>
<circle cx="581.96" cy="192.3" r="2.4" fill="#000"/>
<circle cx="581.96" cy="200" r="2.4" fill="#000"/>
<circle cx="581.96" cy="202.2" r="2.4" fill="#000"/>
<circle cx="581.96" cy="212.7" r="2.4" fill="#000"/>
<circle cx="589.83" cy="171.7" r="2.4" fill="#000"/>
<circle cx="589.83" cy="174.5" r="2.4" fill="#000"/>
<circle cx="589.83" cy="176.7" r="2.4" fill="#000"/>
<circle cx="589.83" cy="186.6" r="2.4" fill="#000"/>
<circle cx="589.83" cy="197.4" r="2.4" fill="#000"/>
<circle cx="589.83" cy="203.2" r="2.4" fill="#000"/>
<circle cx="589.83" cy="205.6" r="2.4" fill="#000"/>
<line x1="393.1" y1="226.8" x2="644.9" y2="226.8" stroke="#3c3c3c" stroke-width="1.2"/>
<line x1="393.1" y1="226.8" x2="393.1" y2="230.1" stroke="#3c3c3c" stroke-width="1.1"/>
<line x1="424.58" y1="226.8" x2="424.58" y2="230.1" stroke="#3c3c3c" stroke-width="1.1"/>
<line x1="456.05" y1="226.8" x2="456.05" y2="230.1" stroke="#3c3c3c" stroke-width="1.1"/>
<line x1="487.52" y1="226.8" x2="487.52" y2="230.1" stroke="#3c3c3c" stroke-width="1.1"/>
<line x1="519" y1="226.8" x2="519" y2="230.1" stroke="#3c3c3c" stroke-width="1.1"/>
<line x1="550.48" y1="226.8" x2="550.48" y2="230.1" stroke="#3c3c3c" stroke-width="1.1"/>
<line x1="581.95" y1="226.8" x2="581.95" y2="230.1" stroke="#3c3c3c" stroke-width="1.1"/>
<line x1="613.42" y1="226.8" x2="613.42" y2="230.1" stroke="#3c3c3c" stroke-width="1.1"/>
<line x1="644.9" y1="226.8" x2="644.9" y2="230.1" stroke="#3c3c3c" stroke-width="1.1"/>
<line x1="408.84" y1="226.8" x2="408.84" y2="229" stroke="#3c3c3c" stroke-width="1.1"/>
<line x1="440.31" y1="226.8" x2="440.31" y2="229" stroke="#3c3c3c" stroke-width="1.1"/>
<line x1="471.79" y1="226.8" x2="471.79" y2="229" stroke="#3c3c3c" stroke-width="1.1"/>
<line x1="503.26" y1="226.8" x2="503.26" y2="229" stroke="#3c3c3c" stroke-width="1.1"/>
<line x1="534.74" y1="226.8" x2="534.74" y2="229" stroke="#3c3c3c" stroke-width="1.1"/>
<line x1="566.21" y1="226.8" x2="566.21" y2="229" stroke="#3c3c3c" stroke-width="1.1"/>
<line x1="597.69" y1="226.8" x2="597.69" y2="229" stroke="#3c3c3c" stroke-width="1.1"/>
<line x1="629.16" y1="226.8" x2="629.16" y2="229" stroke="#3c3c3c" stroke-width="1.1"/>
<rect x="573.6" y="-0.5" width="76.9" height="15.1" fill="#fff" stroke="#d0d0d0" stroke-width="0.8"/>
<rect x="574.2" y="0.1" width="25.6" height="13.9" fill="#ff8a00" stroke="#222" stroke-width="1.2"/>
<line x1="448.31" y1="308" x2="448.31" y2="518.2" stroke="#efefef" stroke-width="0.8"/>
<line x1="485.83" y1="308" x2="485.83" y2="518.2" stroke="#efefef" stroke-width="0.8"/>
<line x1="523.34" y1="308" x2="523.34" y2="518.2" stroke="#efefef" stroke-width="0.8"/>
<line x1="560.86" y1="308" x2="560.86" y2="518.2" stroke="#efefef" stroke-width="0.8"/>
<line x1="598.37" y1="308" x2="598.37" y2="518.2" stroke="#efefef" stroke-width="0.8"/>
<line x1="635.89" y1="308" x2="635.89" y2="518.2" stroke="#efefef" stroke-width="0.8"/>
<line x1="410.8" y1="318.2" x2="673.4" y2="318.2" stroke="#efefef" stroke-width="0.8"/>
<line x1="410.8" y1="413.5" x2="673.4" y2="413.5" stroke="#efefef" stroke-width="0.8"/>
<line x1="410.8" y1="508.8" x2="673.4" y2="508.8" stroke="#efefef" stroke-width="0.8"/>
<path d="M455.28,508.8 L455.28,502.32 L456.39,501.37 L457.47,500.4 L458.53,499.42 L459.56,498.42 L460.56,497.41 L461.54,496.38 L462.5,495.33 L463.43,494.27 L464.33,493.2 L465.22,492.11 L466.08,491.01 L466.92,489.9 L467.73,488.77 L468.53,487.63 L469.3,486.48 L470.06,485.32 L470.79,484.14 L471.5,482.95 L472.2,481.76 L472.87,480.55 L473.53,479.33 L474.17,478.1 L474.79,476.86 L475.4,475.61 L475.99,474.35 L476.56,473.08 L477.12,471.81 L477.66,470.53 L478.19,469.23 L478.7,467.94 L479.2,466.63 L479.69,465.32 L480.16,464 L480.62,462.67 L481.07,461.34 L481.51,460 L481.93,458.66 L482.35,457.31 L482.76,455.96 L483.15,454.6 L483.54,453.24 L483.92,451.88 L484.29,450.51 L484.65,449.14 L485,447.76 L485.35,446.39 L485.69,445.01 L486.03,443.63 L486.36,442.25 L486.68,440.86 L487,439.48 L487.32,438.1 L487.63,436.71 L487.94,435.33 L488.25,433.94 L488.55,432.56 L488.85,431.18 L489.16,429.8 L489.46,428.42 L489.75,427.04 L490.05,425.67 L490.35,424.3 L490.65,422.93 L490.95,421.56 L491.26,420.2 L491.56,418.84 L491.87,417.49 L492.18,416.14 L492.49,414.79 L492.8,413.44 L493.12,412.1 L493.43,410.76 L493.75,409.43 L494.07,408.09 L494.39,406.76 L494.72,405.42 L495.04,404.09 L495.36,402.76 L495.69,401.43 L496.02,400.11 L496.35,398.78 L496.67,397.45 L497,396.12 L497.34,394.8 L497.67,393.47 L498,392.14 L498.33,390.81 L498.66,389.48 L499,388.14 L499.33,386.81 L499.67,385.47 L500,384.14 L500.33,382.8 L500.67,381.45 L501,380.11 L501.34,378.76 L501.67,377.41 L502.01,376.05 L502.34,374.69 L502.67,373.33 L503.01,371.96 L503.34,370.59 L503.67,369.21 L504,367.83 L504.33,366.44 L504.66,365.05 L504.99,363.65 L505.32,362.25 L505.64,360.84 L505.97,359.42 L506.29,358 L506.61,356.57 L506.94,355.14 L507.26,353.69 L507.57,352.24 L507.89,350.79 L508.21,349.33 L508.54,347.86 L508.87,346.4 L509.22,344.95 L509.58,343.5 L509.96,342.06 L510.36,340.63 L510.78,339.22 L511.23,337.83 L511.71,336.45 L512.22,335.1 L512.77,333.78 L513.36,332.49 L513.99,331.23 L514.66,330 L515.39,328.81 L516.16,327.66 L516.98,326.56 L517.84,325.53 L518.73,324.57 L519.64,323.7 L520.56,322.93 L521.5,322.27 L522.43,321.74 L523.36,321.34 L524.28,321.09 L525.17,321.01 L526.04,321.09 L526.88,321.33 L527.69,321.72 L528.48,322.25 L529.24,322.91 L529.98,323.69 L530.69,324.58 L531.39,325.57 L532.06,326.65 L532.71,327.82 L533.34,329.05 L533.95,330.34 L534.55,331.69 L535.12,333.07 L535.68,334.49 L536.22,335.92 L536.74,337.37 L537.26,338.82 L537.75,340.26 L538.23,341.7 L538.7,343.12 L539.16,344.54 L539.61,345.94 L540.04,347.34 L540.47,348.74 L540.89,350.13 L541.3,351.51 L541.7,352.89 L542.09,354.27 L542.48,355.64 L542.87,357.01 L543.24,358.38 L543.62,359.75 L543.99,361.12 L544.36,362.48 L544.72,363.85 L545.09,365.21 L545.44,366.58 L545.8,367.94 L546.15,369.3 L546.5,370.66 L546.85,372.02 L547.19,373.39 L547.54,374.74 L547.88,376.1 L548.21,377.46 L548.55,378.82 L548.88,380.18 L549.21,381.54 L549.54,382.89 L549.87,384.25 L550.19,385.61 L550.51,386.96 L550.83,388.32 L551.15,389.67 L551.47,391.03 L551.79,392.38 L552.1,393.74 L552.41,395.09 L552.73,396.45 L553.04,397.8 L553.35,399.16 L553.66,400.51 L553.96,401.87 L554.27,403.23 L554.58,404.58 L554.88,405.94 L555.19,407.29 L555.49,408.65 L555.8,410 L556.1,411.36 L556.41,412.72 L556.71,414.08 L557.02,415.43 L557.32,416.79 L557.62,418.15 L557.93,419.51 L558.23,420.87 L558.54,422.23 L558.84,423.59 L559.15,424.95 L559.45,426.31 L559.76,427.68 L560.07,429.04 L560.38,430.4 L560.69,431.77 L561,433.14 L561.31,434.5 L561.63,435.87 L561.94,437.24 L562.26,438.6 L562.59,439.97 L562.91,441.33 L563.25,442.7 L563.58,444.06 L563.93,445.43 L564.27,446.79 L564.63,448.15 L564.99,449.51 L565.36,450.87 L565.73,452.22 L566.12,453.57 L566.51,454.92 L566.91,456.27 L567.32,457.61 L567.74,458.96 L568.17,460.29 L568.61,461.63 L569.06,462.96 L569.53,464.28 L570,465.61 L570.49,466.92 L571,468.24 L571.51,469.55 L572.04,470.85 L572.59,472.15 L573.14,473.44 L573.72,474.73 L574.31,476.01 L574.91,477.29 L575.54,478.56 L576.18,479.82 L576.84,481.08 L577.51,482.33 L578.21,483.57 L578.92,484.8 L579.65,486.02 L580.41,487.23 L581.18,488.42 L581.97,489.59 L582.79,490.75 L583.62,491.88 L584.48,492.99 L585.36,494.08 L586.27,495.14 L587.2,496.17 L588.15,497.18 L589.13,498.15 L590.13,499.09 L591.16,499.99 L592.21,500.86 L593.29,501.69 L594.39,502.48 L595.53,503.23 L596.69,503.93 L597.88,504.59 L599.09,505.2 L600.34,505.76 L601.62,506.28 L602.92,506.74 L604.26,507.14 L605.62,507.49 L607.02,507.78 L608.45,508.01 L609.92,508.19 L611.41,508.29 L611.41,508.8 Z" fill="#ff8a00" stroke="none"/>
<path d="M455.28,508.8 L455.28,502.32 L456.39,501.37 L457.47,500.4 L458.53,499.42 L459.56,498.42 L460.56,497.41 L461.54,496.38 L462.5,495.33 L463.43,494.27 L464.33,493.2 L465.22,492.11 L466.08,491.01 L466.92,489.9 L467.73,488.77 L468.53,487.63 L469.3,486.48 L470.06,485.32 L470.79,484.14 L471.5,482.95 L472.2,481.76 L472.87,480.55 L473.53,479.33 L474.17,478.1 L474.79,476.86 L475.4,475.61 L475.99,474.35 L476.56,473.08 L477.12,471.81 L477.66,470.53 L478.19,469.23 L478.7,467.94 L479.2,466.63 L479.69,465.32 L480.16,464 L480.62,462.67 L481.07,461.34 L481.51,460 L481.93,458.66 L482.35,457.31 L482.76,455.96 L483.15,454.6 L483.54,453.24 L483.92,451.88 L484.29,450.51 L484.65,449.14 L485,447.76 L485.35,446.39 L485.69,445.01 L486.03,443.63 L486.36,442.25 L486.68,440.86 L487,439.48 L487.32,438.1 L487.63,436.71 L487.94,435.33 L488.25,433.94 L488.55,432.56 L488.85,431.18 L489.16,429.8 L489.46,428.42 L489.75,427.04 L490.05,425.67 L490.35,424.3 L490.65,422.93 L490.95,421.56 L491.26,420.2 L491.56,418.84 L491.87,417.49 L492.18,416.14 L492.49,414.79 L492.8,413.44 L493.12,412.1 L493.43,410.76 L493.75,409.43 L494.07,408.09 L494.39,406.76 L494.72,405.42 L495.04,404.09 L495.36,402.76 L495.69,401.43 L496.02,400.11 L496.35,398.78 L496.67,397.45 L497,396.12 L497.34,394.8 L497.67,393.47 L498,392.14 L498.33,390.81 L498.66,389.48 L499,388.14 L499.33,386.81 L499.67,385.47 L500,384.14 L500.33,382.8 L500.67,381.45 L501,380.11 L501.34,378.76 L501.67,377.41 L502.01,376.05 L502.34,374.69 L502.67,373.33 L503.01,371.96 L503.34,370.59 L503.67,369.21 L504,367.83 L504.33,366.44 L504.66,365.05 L504.99,363.65 L505.32,362.25 L505.64,360.84 L505.97,359.42 L506.29,358 L506.61,356.57 L506.94,355.14 L507.26,353.69 L507.57,352.24 L507.89,350.79 L508.21,349.33 L508.54,347.86 L508.87,346.4 L509.22,344.95 L509.58,343.5 L509.96,342.06 L510.36,340.63 L510.78,339.22 L511.23,337.83 L511.71,336.45 L512.22,335.1 L512.77,333.78 L513.36,332.49 L513.99,331.23 L514.66,330 L515.39,328.81 L516.16,327.66 L516.98,326.56 L517.84,325.53 L518.73,324.57 L519.64,323.7 L520.56,322.93 L521.5,322.27 L522.43,321.74 L523.36,321.34 L524.28,321.09 L525.17,321.01 L526.04,321.09 L526.88,321.33 L527.69,321.72 L528.48,322.25 L529.24,322.91 L529.98,323.69 L530.69,324.58 L531.39,325.57 L532.06,326.65 L532.71,327.82 L533.34,329.05 L533.95,330.34 L534.55,331.69 L535.12,333.07 L535.68,334.49 L536.22,335.92 L536.74,337.37 L537.26,338.82 L537.75,340.26 L538.23,341.7 L538.7,343.12 L539.16,344.54 L539.61,345.94 L540.04,347.34 L540.47,348.74 L540.89,350.13 L541.3,351.51 L541.7,352.89 L542.09,354.27 L542.48,355.64 L542.87,357.01 L543.24,358.38 L543.62,359.75 L543.99,361.12 L544.36,362.48 L544.72,363.85 L545.09,365.21 L545.44,366.58 L545.8,367.94 L546.15,369.3 L546.5,370.66 L546.85,372.02 L547.19,373.39 L547.54,374.74 L547.88,376.1 L548.21,377.46 L548.55,378.82 L548.88,380.18 L549.21,381.54 L549.54,382.89 L549.87,384.25 L550.19,385.61 L550.51,386.96 L550.83,388.32 L551.15,389.67 L551.47,391.03 L551.79,392.38 L552.1,393.74 L552.41,395.09 L552.73,396.45 L553.04,397.8 L553.35,399.16 L553.66,400.51 L553.96,401.87 L554.27,403.23 L554.58,404.58 L554.88,405.94 L555.19,407.29 L555.49,408.65 L555.8,410 L556.1,411.36 L556.41,412.72 L556.71,414.08 L557.02,415.43 L557.32,416.79 L557.62,418.15 L557.93,419.51 L558.23,420.87 L558.54,422.23 L558.84,423.59 L559.15,424.95 L559.45,426.31 L559.76,427.68 L560.07,429.04 L560.38,430.4 L560.69,431.77 L561,433.14 L561.31,434.5 L561.63,435.87 L561.94,437.24 L562.26,438.6 L562.59,439.97 L562.91,441.33 L563.25,442.7 L563.58,444.06 L563.93,445.43 L564.27,446.79 L564.63,448.15 L564.99,449.51 L565.36,450.87 L565.73,452.22 L566.12,453.57 L566.51,454.92 L566.91,456.27 L567.32,457.61 L567.74,458.96 L568.17,460.29 L568.61,461.63 L569.06,462.96 L569.53,464.28 L570,465.61 L570.49,466.92 L571,468.24 L571.51,469.55 L572.04,470.85 L572.59,472.15 L573.14,473.44 L573.72,474.73 L574.31,476.01 L574.91,477.29 L575.54,478.56 L576.18,479.82 L576.84,481.08 L577.51,482.33 L578.21,483.57 L578.92,484.8 L579.65,486.02 L580.41,487.23 L581.18,488.42 L581.97,489.59 L582.79,490.75 L583.62,491.88 L584.48,492.99 L585.36,494.08 L586.27,495.14 L587.2,496.17 L588.15,497.18 L589.13,498.15 L590.13,499.09 L591.16,499.99 L592.21,500.86 L593.29,501.69 L594.39,502.48 L595.53,503.23 L596.69,503.93 L597.88,504.59 L599.09,505.2 L600.34,505.76 L601.62,506.28 L602.92,506.74 L604.26,507.14 L605.62,507.49 L607.02,507.78 L608.45,508.01 L609.92,508.19 L611.41,508.29 L611.41,508.8" fill="none" stroke="#111" stroke-width="1.2"/>
<circle cx="515.6" cy="330.8" r="2.4" fill="#000"/>
<circle cx="519.7" cy="328.4" r="2.4" fill="#000"/>
<circle cx="530.8" cy="333.1" r="2.4" fill="#000"/>
<circle cx="523.2" cy="336.4" r="2.4" fill="#000"/>
<circle cx="511.5" cy="345.6" r="2.4" fill="#000"/>
<circle cx="515.6" cy="346.3" r="2.4" fill="#000"/>
<circle cx="519.7" cy="346.3" r="2.4" fill="#000"/>
<circle cx="523.4" cy="346.3" r="2.4" fill="#000"/>
<circle cx="512.1" cy="351.6" r="2.4" fill="#000"/>
<circle cx="523.2" cy="356.5" r="2.4" fill="#000"/>
<circle cx="523.4" cy="358.8" r="2.4" fill="#000"/>
<circle cx="526.7" cy="360.8" r="2.4" fill="#000"/>
<circle cx="527.3" cy="363.1" r="2.4" fill="#000"/>
<circle cx="534.3" cy="358.8" r="2.4" fill="#000"/>
<circle cx="537.8" cy="360" r="2.4" fill="#000"/>
<circle cx="541.9" cy="362.3" r="2.4" fill="#000"/>
<circle cx="508" cy="361.7" r="2.4" fill="#000"/>
<circle cx="512.1" cy="361.7" r="2.4" fill="#000"/>
<circle cx="504.5" cy="367.6" r="2.4" fill="#000"/>
<circle cx="504.5" cy="372.2" r="2.4" fill="#000"/>
<circle cx="504.5" cy="375.1" r="2.4" fill="#000"/>
<circle cx="508" cy="376.9" r="2.4" fill="#000"/>
<circle cx="519.1" cy="376.7" r="2.4" fill="#000"/>
<circle cx="523.2" cy="373.4" r="2.4" fill="#000"/>
<circle cx="527.3" cy="375.7" r="2.4" fill="#000"/>
<circle cx="530.8" cy="374.6" r="2.4" fill="#000"/>
<circle cx="534.9" cy="372.8" r="2.4" fill="#000"/>
<circle cx="541.9" cy="375.1" r="2.4" fill="#000"/>
<circle cx="541.9" cy="378.6" r="2.4" fill="#000"/>
<circle cx="541.9" cy="382.2" r="2.4" fill="#000"/>
<circle cx="546" cy="382.2" r="2.4" fill="#000"/>
<circle cx="500.4" cy="385.7" r="2.4" fill="#000"/>
<circle cx="504.5" cy="382.7" r="2.4" fill="#000"/>
<circle cx="508" cy="381.6" r="2.4" fill="#000"/>
<circle cx="504.5" cy="387.4" r="2.4" fill="#000"/>
<circle cx="508" cy="388" r="2.4" fill="#000"/>
<circle cx="512.1" cy="385.7" r="2.4" fill="#000"/>
<circle cx="515.6" cy="383.1" r="2.4" fill="#000"/>
<circle cx="523.2" cy="387.6" r="2.4" fill="#000"/>
<circle cx="527.3" cy="386.8" r="2.4" fill="#000"/>
<circle cx="530.8" cy="390.9" r="2.4" fill="#000"/>
<circle cx="538.4" cy="390.7" r="2.4" fill="#000"/>
<circle cx="549.8" cy="393.8" r="2.4" fill="#000"/>
<circle cx="527" cy="400.7" r="2.4" fill="#000"/>
<circle cx="545.9" cy="406.7" r="2.4" fill="#000"/>
<circle cx="549.4" cy="412.8" r="2.4" fill="#000"/>
<circle cx="496.6" cy="410.2" r="2.4" fill="#000"/>
<circle cx="504.5" cy="408.7" r="2.4" fill="#000"/>
<circle cx="508" cy="410.8" r="2.4" fill="#000"/>
<circle cx="511.8" cy="408.7" r="2.4" fill="#000"/>
<circle cx="515.8" cy="405.5" r="2.4" fill="#000"/>
<circle cx="519.6" cy="408.7" r="2.4" fill="#000"/>
<circle cx="512.3" cy="414.2" r="2.4" fill="#000"/>
<circle cx="496.9" cy="421" r="2.4" fill="#000"/>
<circle cx="500.6" cy="419.8" r="2.4" fill="#000"/>
<circle cx="504.8" cy="418" r="2.4" fill="#000"/>
<circle cx="504.5" cy="424.8" r="2.4" fill="#000"/>
<circle cx="504.5" cy="427.1" r="2.4" fill="#000"/>
<circle cx="519.6" cy="419.2" r="2.4" fill="#000"/>
<circle cx="523.5" cy="418.6" r="2.4" fill="#000"/>
<circle cx="530.7" cy="418" r="2.4" fill="#000"/>
<circle cx="530.7" cy="422.5" r="2.4" fill="#000"/>
<circle cx="534.2" cy="421.5" r="2.4" fill="#000"/>
<circle cx="538.3" cy="419.8" r="2.4" fill="#000"/>
<circle cx="534.2" cy="425.6" r="2.4" fill="#000"/>
<circle cx="534.2" cy="428.5" r="2.4" fill="#000"/>
<circle cx="538.3" cy="425" r="2.4" fill="#000"/>
<circle cx="542.2" cy="425.6" r="2.4" fill="#000"/>
<circle cx="538.3" cy="432.6" r="2.4" fill="#000"/>
<circle cx="549.4" cy="420.1" r="2.4" fill="#000"/>
<circle cx="549.4" cy="430.3" r="2.4" fill="#000"/>
<circle cx="545.9" cy="434.1" r="2.4" fill="#000"/>
<circle cx="515.9" cy="433.2" r="2.4" fill="#000"/>
<circle cx="511.8" cy="436.1" r="2.4" fill="#000"/>
<circle cx="511.8" cy="439.9" r="2.4" fill="#000"/>
<circle cx="504.5" cy="439.1" r="2.4" fill="#000"/>
<circle cx="527" cy="436.4" r="2.4" fill="#000"/>
<circle cx="523.5" cy="440.2" r="2.4" fill="#000"/>
<circle cx="519.6" cy="444" r="2.4" fill="#000"/>
<circle cx="489.6" cy="442" r="2.4" fill="#000"/>
<circle cx="493.1" cy="447.8" r="2.4" fill="#000"/>
<circle cx="496.9" cy="450.5" r="2.4" fill="#000"/>
<circle cx="500.6" cy="448.2" r="2.4" fill="#000"/>
<circle cx="508" cy="449.6" r="2.4" fill="#000"/>
<circle cx="511.8" cy="450.5" r="2.4" fill="#000"/>
<circle cx="515.8" cy="452.7" r="2.4" fill="#000"/>
<circle cx="519.6" cy="456" r="2.4" fill="#000"/>
<circle cx="523.5" cy="450.1" r="2.4" fill="#000"/>
<circle cx="534.6" cy="448.6" r="2.4" fill="#000"/>
<circle cx="549.4" cy="447.2" r="2.4" fill="#000"/>
<circle cx="545.9" cy="455.6" r="2.4" fill="#000"/>
<circle cx="530.7" cy="454.8" r="2.4" fill="#000"/>
<circle cx="527" cy="459.5" r="2.4" fill="#000"/>
<circle cx="530.7" cy="463.8" r="2.4" fill="#000"/>
<circle cx="523.1" cy="463.8" r="2.4" fill="#000"/>
<circle cx="527" cy="465.9" r="2.4" fill="#000"/>
<circle cx="500.6" cy="456" r="2.4" fill="#000"/>
<circle cx="504.5" cy="462.2" r="2.4" fill="#000"/>
<circle cx="489.6" cy="457.5" r="2.4" fill="#000"/>
<circle cx="489.6" cy="460.1" r="2.4" fill="#000"/>
<circle cx="489.6" cy="463" r="2.4" fill="#000"/>
<circle cx="511.8" cy="465.7" r="2.4" fill="#000"/>
<circle cx="493.1" cy="468" r="2.4" fill="#000"/>
<circle cx="485.8" cy="468.8" r="2.4" fill="#000"/>
<circle cx="542.4" cy="468.8" r="2.4" fill="#000"/>
<circle cx="549.6" cy="396.5" r="2.4" fill="#000"/>
<circle cx="551.4" cy="409.6" r="2.4" fill="#000"/>
<circle cx="553.4" cy="427.4" r="2.4" fill="#000"/>
<circle cx="557.3" cy="431.5" r="2.4" fill="#000"/>
<circle cx="554" cy="439.1" r="2.4" fill="#000"/>
<circle cx="557.3" cy="437.9" r="2.4" fill="#000"/>
<circle cx="557.3" cy="440.5" r="2.4" fill="#000"/>
<circle cx="554" cy="452.5" r="2.4" fill="#000"/>
<circle cx="557.3" cy="454" r="2.4" fill="#000"/>
<circle cx="551.4" cy="456" r="2.4" fill="#000"/>
<circle cx="554" cy="460.7" r="2.4" fill="#000"/>
<circle cx="557.3" cy="467.3" r="2.4" fill="#000"/>
<circle cx="511.9" cy="467.8" r="2.4" fill="#000"/>
<circle cx="481.8" cy="473.4" r="2.4" fill="#000"/>
<circle cx="493.4" cy="472.3" r="2.4" fill="#000"/>
<circle cx="493.4" cy="475.8" r="2.4" fill="#000"/>
<circle cx="508.2" cy="471.9" r="2.4" fill="#000"/>
<circle cx="519.8" cy="472.3" r="2.4" fill="#000"/>
<circle cx="519.8" cy="474" r="2.4" fill="#000"/>
<circle cx="523.3" cy="476.6" r="2.4" fill="#000"/>
<circle cx="474.3" cy="479.3" r="2.4" fill="#000"/>
<circle cx="474.3" cy="482.2" r="2.4" fill="#000"/>
<circle cx="481.8" cy="486.6" r="2.4" fill="#000"/>
<circle cx="493.4" cy="486.9" r="2.4" fill="#000"/>
<circle cx="500.8" cy="485.7" r="2.4" fill="#000"/>
<circle cx="500.8" cy="487.4" r="2.4" fill="#000"/>
<circle cx="504.7" cy="484.8" r="2.4" fill="#000"/>
<circle cx="515.6" cy="484.5" r="2.4" fill="#000"/>
<circle cx="466.9" cy="492.7" r="2.4" fill="#000"/>
<circle cx="481.8" cy="491.5" r="2.4" fill="#000"/>
<circle cx="481.8" cy="494.5" r="2.4" fill="#000"/>
<circle cx="485.6" cy="493.6" r="2.4" fill="#000"/>
<circle cx="485.6" cy="498.3" r="2.4" fill="#000"/>
<circle cx="497" cy="496" r="2.4" fill="#000"/>
<circle cx="500.8" cy="493.9" r="2.4" fill="#000"/>
<circle cx="504.7" cy="496.2" r="2.4" fill="#000"/>
<circle cx="515.6" cy="493.9" r="2.4" fill="#000"/>
<circle cx="519.8" cy="497.4" r="2.4" fill="#000"/>
<circle cx="519.8" cy="500.3" r="2.4" fill="#000"/>
<circle cx="519.8" cy="503.2" r="2.4" fill="#000"/>
<circle cx="493.4" cy="499.7" r="2.4" fill="#000"/>
<circle cx="493.4" cy="503.2" r="2.4" fill="#000"/>
<circle cx="500.8" cy="501.5" r="2.4" fill="#000"/>
<circle cx="459.3" cy="500.6" r="2.4" fill="#000"/>
<circle cx="463.1" cy="505.3" r="2.4" fill="#000"/>
<circle cx="542.1" cy="471.2" r="2.4" fill="#000"/>
<circle cx="557.2" cy="469.9" r="2.4" fill="#000"/>
<circle cx="551.3" cy="471.6" r="2.4" fill="#000"/>
<circle cx="542.1" cy="475.5" r="2.4" fill="#000"/>
<circle cx="546" cy="476.4" r="2.4" fill="#000"/>
<circle cx="546" cy="480" r="2.4" fill="#000"/>
<circle cx="557.2" cy="477.1" r="2.4" fill="#000"/>
<circle cx="564.7" cy="476.2" r="2.4" fill="#000"/>
<circle cx="553.2" cy="483.9" r="2.4" fill="#000"/>
<circle cx="557.2" cy="487.3" r="2.4" fill="#000"/>
<circle cx="551.3" cy="491.3" r="2.4" fill="#000"/>
<circle cx="549.3" cy="495.5" r="2.4" fill="#000"/>
<circle cx="564.7" cy="495.2" r="2.4" fill="#000"/>
<circle cx="542.1" cy="498.4" r="2.4" fill="#000"/>
<circle cx="545.8" cy="502.7" r="2.4" fill="#000"/>
<circle cx="549.3" cy="500.7" r="2.4" fill="#000"/>
<circle cx="551.9" cy="501.8" r="2.4" fill="#000"/>
<circle cx="557.2" cy="501.5" r="2.4" fill="#000"/>
<circle cx="545.8" cy="506.2" r="2.4" fill="#000"/>
<circle cx="549.7" cy="508.9" r="2.4" fill="#000"/>
<circle cx="557.2" cy="508.9" r="2.4" fill="#000"/>
<circle cx="572" cy="506.6" r="2.4" fill="#000"/>
<circle cx="587.4" cy="506.2" r="2.4" fill="#000"/>
<circle cx="617.2" cy="413.4" r="2.4" fill="#000"/>
<circle cx="632.1" cy="413.4" r="2.4" fill="#000"/>
<line x1="410.8" y1="518.2" x2="673.4" y2="518.2" stroke="#3c3c3c" stroke-width="1.2"/>
<line x1="410.8" y1="518.2" x2="410.8" y2="521.5" stroke="#3c3c3c" stroke-width="1.1"/>
<line x1="448.31" y1="518.2" x2="448.31" y2="521.5" stroke="#3c3c3c" stroke-width="1.1"/>
<line x1="485.83" y1="518.2" x2="485.83" y2="521.5" stroke="#3c3c3c" stroke-width="1.1"/>
<line x1="523.34" y1="518.2" x2="523.34" y2="521.5" stroke="#3c3c3c" stroke-width="1.1"/>
<line x1="560.86" y1="518.2" x2="560.86" y2="521.5" stroke="#3c3c3c" stroke-width="1.1"/>
<line x1="598.37" y1="518.2" x2="598.37" y2="521.5" stroke="#3c3c3c" stroke-width="1.1"/>
<line x1="635.89" y1="518.2" x2="635.89" y2="521.5" stroke="#3c3c3c" stroke-width="1.1"/>
<line x1="673.4" y1="518.2" x2="673.4" y2="521.5" stroke="#3c3c3c" stroke-width="1.1"/>
<line x1="429.56" y1="518.2" x2="429.56" y2="520.4" stroke="#3c3c3c" stroke-width="1.1"/>
<line x1="467.07" y1="518.2" x2="467.07" y2="520.4" stroke="#3c3c3c" stroke-width="1.1"/>
<line x1="504.59" y1="518.2" x2="504.59" y2="520.4" stroke="#3c3c3c" stroke-width="1.1"/>
<line x1="542.1" y1="518.2" x2="542.1" y2="520.4" stroke="#3c3c3c" stroke-width="1.1"/>
<line x1="579.61" y1="518.2" x2="579.61" y2="520.4" stroke="#3c3c3c" stroke-width="1.1"/>
<line x1="617.13" y1="518.2" x2="617.13" y2="520.4" stroke="#3c3c3c" stroke-width="1.1"/>
<line x1="654.64" y1="518.2" x2="654.64" y2="520.4" stroke="#3c3c3c" stroke-width="1.1"/>
<rect x="610.3" y="303.2" width="55.3" height="12.5" fill="#fff" stroke="#d0d0d0" stroke-width="0.8"/>
<rect x="610.9" y="303.8" width="25.6" height="11.3" fill="#ff8a00" stroke="#222" stroke-width="1.2"/>
<line x1="428" y1="585" x2="428" y2="815.3" stroke="#efefef" stroke-width="0.8"/>
<line x1="474" y1="585" x2="474" y2="815.3" stroke="#efefef" stroke-width="0.8"/>
<line x1="520" y1="585" x2="520" y2="815.3" stroke="#efefef" stroke-width="0.8"/>
<line x1="566" y1="585" x2="566" y2="815.3" stroke="#efefef" stroke-width="0.8"/>
<line x1="612" y1="585" x2="612" y2="815.3" stroke="#efefef" stroke-width="0.8"/>
<line x1="658" y1="585" x2="658" y2="815.3" stroke="#efefef" stroke-width="0.8"/>
<line x1="405" y1="595.3" x2="681" y2="595.3" stroke="#efefef" stroke-width="0.8"/>
<line x1="405" y1="700" x2="681" y2="700" stroke="#efefef" stroke-width="0.8"/>
<line x1="405" y1="804.6" x2="681" y2="804.6" stroke="#efefef" stroke-width="0.8"/>
<path d="M451.18,804.6 L451.18,773.5 L451.91,772.24 L452.63,770.96 L453.34,769.68 L454.03,768.39 L454.72,767.09 L455.4,765.79 L456.06,764.48 L456.72,763.17 L457.36,761.85 L458,760.52 L458.62,759.19 L459.24,757.86 L459.85,756.51 L460.45,755.17 L461.04,753.82 L461.62,752.46 L462.19,751.1 L462.76,749.73 L463.31,748.36 L463.86,746.98 L464.41,745.6 L464.94,744.22 L465.47,742.83 L465.99,741.44 L466.5,740.05 L467.01,738.65 L467.51,737.25 L468,735.84 L468.49,734.43 L468.97,733.02 L469.45,731.61 L469.92,730.19 L470.39,728.78 L470.85,727.35 L471.31,725.93 L471.76,724.51 L472.21,723.08 L472.65,721.65 L473.09,720.22 L473.53,718.79 L473.96,717.36 L474.39,715.92 L474.82,714.49 L475.24,713.05 L475.66,711.61 L476.08,710.18 L476.49,708.74 L476.9,707.3 L477.32,705.86 L477.72,704.42 L478.13,702.98 L478.54,701.55 L478.94,700.11 L479.35,698.67 L479.75,697.23 L480.15,695.8 L480.56,694.36 L480.96,692.93 L481.36,691.5 L481.76,690.07 L482.17,688.64 L482.57,687.21 L482.98,685.79 L483.38,684.36 L483.79,682.94 L484.2,681.52 L484.61,680.1 L485.02,678.69 L485.43,677.28 L485.85,675.87 L486.27,674.46 L486.69,673.06 L487.11,671.66 L487.54,670.26 L487.97,668.87 L488.4,667.48 L488.83,666.09 L489.27,664.71 L489.71,663.32 L490.15,661.94 L490.59,660.56 L491.03,659.17 L491.48,657.79 L491.92,656.4 L492.36,655.02 L492.8,653.63 L493.24,652.23 L493.67,650.83 L494.11,649.43 L494.54,648.03 L494.97,646.61 L495.39,645.2 L495.81,643.77 L496.23,642.34 L496.64,640.9 L497.05,639.45 L497.46,638 L497.85,636.53 L498.24,635.05 L498.63,633.57 L499.01,632.07 L499.38,630.56 L499.74,629.04 L500.09,627.51 L500.45,625.97 L500.8,624.42 L501.16,622.87 L501.54,621.33 L501.94,619.79 L502.37,618.26 L502.82,616.76 L503.32,615.27 L503.86,613.81 L504.45,612.38 L505.09,610.98 L505.8,609.63 L506.58,608.31 L507.43,607.04 L508.35,605.83 L509.34,604.67 L510.39,603.58 L511.49,602.57 L512.63,601.64 L513.8,600.79 L515,600.05 L516.2,599.4 L517.42,598.87 L518.62,598.45 L519.82,598.16 L520.99,598 L522.13,597.97 L523.24,598.09 L524.31,598.35 L525.35,598.73 L526.36,599.23 L527.33,599.84 L528.28,600.56 L529.19,601.37 L530.07,602.28 L530.93,603.28 L531.76,604.35 L532.56,605.49 L533.34,606.7 L534.1,607.96 L534.83,609.27 L535.54,610.63 L536.22,612.02 L536.89,613.44 L537.53,614.88 L538.16,616.33 L538.77,617.8 L539.37,619.26 L539.94,620.73 L540.51,622.19 L541.05,623.66 L541.59,625.12 L542.11,626.58 L542.62,628.04 L543.13,629.5 L543.62,630.96 L544.1,632.41 L544.58,633.87 L545.05,635.32 L545.51,636.77 L545.97,638.22 L546.43,639.67 L546.88,641.11 L547.33,642.55 L547.78,643.99 L548.23,645.42 L548.68,646.86 L549.13,648.29 L549.58,649.71 L550.03,651.14 L550.48,652.56 L550.92,653.98 L551.37,655.4 L551.82,656.82 L552.26,658.23 L552.71,659.65 L553.15,661.06 L553.6,662.47 L554.04,663.88 L554.48,665.29 L554.93,666.69 L555.37,668.1 L555.81,669.5 L556.25,670.91 L556.69,672.31 L557.13,673.71 L557.57,675.11 L558.01,676.51 L558.45,677.91 L558.88,679.31 L559.32,680.71 L559.76,682.11 L560.19,683.51 L560.63,684.91 L561.06,686.31 L561.5,687.71 L561.93,689.11 L562.36,690.51 L562.8,691.91 L563.23,693.31 L563.66,694.72 L564.09,696.12 L564.52,697.52 L564.95,698.93 L565.37,700.34 L565.8,701.75 L566.23,703.15 L566.65,704.57 L567.08,705.98 L567.5,707.39 L567.93,708.81 L568.35,710.23 L568.77,711.65 L569.19,713.07 L569.61,714.49 L570.03,715.92 L570.45,717.35 L570.87,718.78 L571.29,720.21 L571.71,721.64 L572.14,723.08 L572.56,724.51 L572.99,725.94 L573.42,727.38 L573.85,728.81 L574.28,730.25 L574.72,731.68 L575.16,733.11 L575.61,734.54 L576.06,735.97 L576.52,737.4 L576.98,738.83 L577.45,740.25 L577.93,741.67 L578.41,743.09 L578.9,744.5 L579.4,745.91 L579.91,747.32 L580.42,748.72 L580.94,750.12 L581.48,751.52 L582.02,752.91 L582.57,754.29 L583.14,755.67 L583.71,757.05 L584.3,758.41 L584.9,759.77 L585.51,761.13 L586.13,762.48 L586.77,763.82 L587.42,765.15 L588.08,766.48 L588.76,767.8 L589.45,769.11 L590.15,770.41 L590.88,771.71 L591.62,772.99 L592.37,774.27 L593.14,775.54 L593.93,776.79 L594.74,778.04 L595.56,779.28 L596.4,780.5 L597.26,781.71 L598.14,782.91 L599.04,784.1 L599.96,785.26 L600.9,786.41 L601.86,787.53 L602.84,788.64 L603.85,789.72 L604.87,790.77 L605.92,791.8 L606.99,792.8 L608.08,793.77 L609.2,794.71 L610.34,795.61 L611.5,796.48 L612.69,797.31 L613.91,798.1 L615.15,798.86 L616.41,799.57 L617.71,800.24 L619.03,800.87 L620.37,801.45 L621.75,801.98 L623.15,802.46 L624.58,802.89 L626.04,803.27 L627.53,803.59 L629.05,803.86 L630.6,804.07 L632.18,804.23 L633.79,804.32 L635.43,804.35 L635.43,804.6 Z" fill="#ff8a00" stroke="none"/>
<path d="M451.18,804.6 L451.18,773.5 L451.91,772.24 L452.63,770.96 L453.34,769.68 L454.03,768.39 L454.72,767.09 L455.4,765.79 L456.06,764.48 L456.72,763.17 L457.36,761.85 L458,760.52 L458.62,759.19 L459.24,757.86 L459.85,756.51 L460.45,755.17 L461.04,753.82 L461.62,752.46 L462.19,751.1 L462.76,749.73 L463.31,748.36 L463.86,746.98 L464.41,745.6 L464.94,744.22 L465.47,742.83 L465.99,741.44 L466.5,740.05 L467.01,738.65 L467.51,737.25 L468,735.84 L468.49,734.43 L468.97,733.02 L469.45,731.61 L469.92,730.19 L470.39,728.78 L470.85,727.35 L471.31,725.93 L471.76,724.51 L472.21,723.08 L472.65,721.65 L473.09,720.22 L473.53,718.79 L473.96,717.36 L474.39,715.92 L474.82,714.49 L475.24,713.05 L475.66,711.61 L476.08,710.18 L476.49,708.74 L476.9,707.3 L477.32,705.86 L477.72,704.42 L478.13,702.98 L478.54,701.55 L478.94,700.11 L479.35,698.67 L479.75,697.23 L480.15,695.8 L480.56,694.36 L480.96,692.93 L481.36,691.5 L481.76,690.07 L482.17,688.64 L482.57,687.21 L482.98,685.79 L483.38,684.36 L483.79,682.94 L484.2,681.52 L484.61,680.1 L485.02,678.69 L485.43,677.28 L485.85,675.87 L486.27,674.46 L486.69,673.06 L487.11,671.66 L487.54,670.26 L487.97,668.87 L488.4,667.48 L488.83,666.09 L489.27,664.71 L489.71,663.32 L490.15,661.94 L490.59,660.56 L491.03,659.17 L491.48,657.79 L491.92,656.4 L492.36,655.02 L492.8,653.63 L493.24,652.23 L493.67,650.83 L494.11,649.43 L494.54,648.03 L494.97,646.61 L495.39,645.2 L495.81,643.77 L496.23,642.34 L496.64,640.9 L497.05,639.45 L497.46,638 L497.85,636.53 L498.24,635.05 L498.63,633.57 L499.01,632.07 L499.38,630.56 L499.74,629.04 L500.09,627.51 L500.45,625.97 L500.8,624.42 L501.16,622.87 L501.54,621.33 L501.94,619.79 L502.37,618.26 L502.82,616.76 L503.32,615.27 L503.86,613.81 L504.45,612.38 L505.09,610.98 L505.8,609.63 L506.58,608.31 L507.43,607.04 L508.35,605.83 L509.34,604.67 L510.39,603.58 L511.49,602.57 L512.63,601.64 L513.8,600.79 L515,600.05 L516.2,599.4 L517.42,598.87 L518.62,598.45 L519.82,598.16 L520.99,598 L522.13,597.97 L523.24,598.09 L524.31,598.35 L525.35,598.73 L526.36,599.23 L527.33,599.84 L528.28,600.56 L529.19,601.37 L530.07,602.28 L530.93,603.28 L531.76,604.35 L532.56,605.49 L533.34,606.7 L534.1,607.96 L534.83,609.27 L535.54,610.63 L536.22,612.02 L536.89,613.44 L537.53,614.88 L538.16,616.33 L538.77,617.8 L539.37,619.26 L539.94,620.73 L540.51,622.19 L541.05,623.66 L541.59,625.12 L542.11,626.58 L542.62,628.04 L543.13,629.5 L543.62,630.96 L544.1,632.41 L544.58,633.87 L545.05,635.32 L545.51,636.77 L545.97,638.22 L546.43,639.67 L546.88,641.11 L547.33,642.55 L547.78,643.99 L548.23,645.42 L548.68,646.86 L549.13,648.29 L549.58,649.71 L550.03,651.14 L550.48,652.56 L550.92,653.98 L551.37,655.4 L551.82,656.82 L552.26,658.23 L552.71,659.65 L553.15,661.06 L553.6,662.47 L554.04,663.88 L554.48,665.29 L554.93,666.69 L555.37,668.1 L555.81,669.5 L556.25,670.91 L556.69,672.31 L557.13,673.71 L557.57,675.11 L558.01,676.51 L558.45,677.91 L558.88,679.31 L559.32,680.71 L559.76,682.11 L560.19,683.51 L560.63,684.91 L561.06,686.31 L561.5,687.71 L561.93,689.11 L562.36,690.51 L562.8,691.91 L563.23,693.31 L563.66,694.72 L564.09,696.12 L564.52,697.52 L564.95,698.93 L565.37,700.34 L565.8,701.75 L566.23,703.15 L566.65,704.57 L567.08,705.98 L567.5,707.39 L567.93,708.81 L568.35,710.23 L568.77,711.65 L569.19,713.07 L569.61,714.49 L570.03,715.92 L570.45,717.35 L570.87,718.78 L571.29,720.21 L571.71,721.64 L572.14,723.08 L572.56,724.51 L572.99,725.94 L573.42,727.38 L573.85,728.81 L574.28,730.25 L574.72,731.68 L575.16,733.11 L575.61,734.54 L576.06,735.97 L576.52,737.4 L576.98,738.83 L577.45,740.25 L577.93,741.67 L578.41,743.09 L578.9,744.5 L579.4,745.91 L579.91,747.32 L580.42,748.72 L580.94,750.12 L581.48,751.52 L582.02,752.91 L582.57,754.29 L583.14,755.67 L583.71,757.05 L584.3,758.41 L584.9,759.77 L585.51,761.13 L586.13,762.48 L586.77,763.82 L587.42,765.15 L588.08,766.48 L588.76,767.8 L589.45,769.11 L590.15,770.41 L590.88,771.71 L591.62,772.99 L592.37,774.27 L593.14,775.54 L593.93,776.79 L594.74,778.04 L595.56,779.28 L596.4,780.5 L597.26,781.71 L598.14,782.91 L599.04,784.1 L599.96,785.26 L600.9,786.41 L601.86,787.53 L602.84,788.64 L603.85,789.72 L604.87,790.77 L605.92,791.8 L606.99,792.8 L608.08,793.77 L609.2,794.71 L610.34,795.61 L611.5,796.48 L612.69,797.31 L613.91,798.1 L615.15,798.86 L616.41,799.57 L617.71,800.24 L619.03,800.87 L620.37,801.45 L621.75,801.98 L623.15,802.46 L624.58,802.89 L626.04,803.27 L627.53,803.59 L629.05,803.86 L630.6,804.07 L632.18,804.23 L633.79,804.32 L635.43,804.35 L635.43,804.6" fill="none" stroke="#111" stroke-width="1.2"/>
<circle cx="520.6" cy="602.3" r="2.4" fill="#000"/>
<circle cx="512.5" cy="609.3" r="2.4" fill="#000"/>
<circle cx="507.8" cy="611.9" r="2.4" fill="#000"/>
<circle cx="521.5" cy="611.3" r="2.4" fill="#000"/>
<circle cx="525.8" cy="612.4" r="2.4" fill="#000"/>
<circle cx="514.1" cy="616.3" r="2.4" fill="#000"/>
<circle cx="517.6" cy="616.5" r="2.4" fill="#000"/>
<circle cx="518.8" cy="619.4" r="2.4" fill="#000"/>
<circle cx="518.3" cy="623.3" r="2.4" fill="#000"/>
<circle cx="523" cy="619.1" r="2.4" fill="#000"/>
<circle cx="502.8" cy="627.3" r="2.4" fill="#000"/>
<circle cx="502.8" cy="632.3" r="2.4" fill="#000"/>
<circle cx="526.7" cy="628.8" r="2.4" fill="#000"/>
<circle cx="536.3" cy="626.5" r="2.4" fill="#000"/>
<circle cx="501.6" cy="641.6" r="2.4" fill="#000"/>
<circle cx="528.1" cy="646.9" r="2.4" fill="#000"/>
<circle cx="534.9" cy="652.7" r="2.4" fill="#000"/>
<circle cx="507.1" cy="656" r="2.4" fill="#000"/>
<circle cx="524.4" cy="658.2" r="2.4" fill="#000"/>
<circle cx="531.2" cy="659.5" r="2.4" fill="#000"/>
<circle cx="509.2" cy="661.8" r="2.4" fill="#000"/>
<circle cx="512.1" cy="665.8" r="2.4" fill="#000"/>
<circle cx="540.5" cy="660.9" r="2.4" fill="#000"/>
<circle cx="543.1" cy="657.4" r="2.4" fill="#000"/>
<circle cx="546.8" cy="655.7" r="2.4" fill="#000"/>
<circle cx="542.8" cy="664.6" r="2.4" fill="#000"/>
<circle cx="503.1" cy="669.7" r="2.4" fill="#000"/>
<circle cx="492.8" cy="671.4" r="2.4" fill="#000"/>
<circle cx="488.2" cy="671.4" r="2.4" fill="#000"/>
<circle cx="498.3" cy="674.1" r="2.4" fill="#000"/>
<circle cx="528.6" cy="674.6" r="2.4" fill="#000"/>
<circle cx="533" cy="677.6" r="2.4" fill="#000"/>
<circle cx="531.8" cy="681.4" r="2.4" fill="#000"/>
<circle cx="539.5" cy="675.3" r="2.4" fill="#000"/>
<circle cx="544.4" cy="676.1" r="2.4" fill="#000"/>
<circle cx="490.5" cy="680" r="2.4" fill="#000"/>
<circle cx="497.5" cy="682.5" r="2.4" fill="#000"/>
<circle cx="486.6" cy="685.8" r="2.4" fill="#000"/>
<circle cx="522.2" cy="688.9" r="2.4" fill="#000"/>
<circle cx="528.6" cy="688.9" r="2.4" fill="#000"/>
<circle cx="498.9" cy="693.6" r="2.4" fill="#000"/>
<circle cx="510" cy="696" r="2.4" fill="#000"/>
<circle cx="512.3" cy="697.9" r="2.4" fill="#000"/>
<circle cx="483.1" cy="696.8" r="2.4" fill="#000"/>
<circle cx="481.4" cy="700" r="2.4" fill="#000"/>
<circle cx="533.9" cy="699.8" r="2.4" fill="#000"/>
<circle cx="542.7" cy="695.1" r="2.4" fill="#000"/>
<circle cx="488.1" cy="706.5" r="2.4" fill="#000"/>
<circle cx="490.5" cy="711.5" r="2.4" fill="#000"/>
<circle cx="490.5" cy="715.8" r="2.4" fill="#000"/>
<circle cx="505.9" cy="708.8" r="2.4" fill="#000"/>
<circle cx="517" cy="706.1" r="2.4" fill="#000"/>
<circle cx="518.5" cy="709.1" r="2.4" fill="#000"/>
<circle cx="544.4" cy="706.8" r="2.4" fill="#000"/>
<circle cx="531.8" cy="712.9" r="2.4" fill="#000"/>
<circle cx="534.8" cy="714.1" r="2.4" fill="#000"/>
<circle cx="537.4" cy="712.3" r="2.4" fill="#000"/>
<circle cx="507.3" cy="717.8" r="2.4" fill="#000"/>
<circle cx="524.8" cy="717" r="2.4" fill="#000"/>
<circle cx="528.1" cy="721.6" r="2.4" fill="#000"/>
<circle cx="473.4" cy="718.7" r="2.4" fill="#000"/>
<circle cx="476.7" cy="715.2" r="2.4" fill="#000"/>
<circle cx="479" cy="716.4" r="2.4" fill="#000"/>
<circle cx="475.7" cy="721.1" r="2.4" fill="#000"/>
<circle cx="480" cy="722" r="2.4" fill="#000"/>
<circle cx="536.8" cy="722.8" r="2.4" fill="#000"/>
<circle cx="538.8" cy="725.7" r="2.4" fill="#000"/>
<circle cx="523.4" cy="726.3" r="2.4" fill="#000"/>
<circle cx="485.1" cy="727.8" r="2.4" fill="#000"/>
<circle cx="488.9" cy="731" r="2.4" fill="#000"/>
<circle cx="473.4" cy="732.2" r="2.4" fill="#000"/>
<circle cx="475.7" cy="731" r="2.4" fill="#000"/>
<circle cx="515.5" cy="733.3" r="2.4" fill="#000"/>
<circle cx="537.6" cy="734.1" r="2.4" fill="#000"/>
<circle cx="485.8" cy="736" r="2.4" fill="#000"/>
<circle cx="483.5" cy="739.7" r="2.4" fill="#000"/>
<circle cx="470.3" cy="737.6" r="2.4" fill="#000"/>
<circle cx="497.9" cy="739.7" r="2.4" fill="#000"/>
<circle cx="538.6" cy="743.5" r="2.4" fill="#000"/>
<circle cx="546.8" cy="690.1" r="2.4" fill="#000"/>
<circle cx="547.2" cy="697.1" r="2.4" fill="#000"/>
<circle cx="551.4" cy="703" r="2.4" fill="#000"/>
<circle cx="557.8" cy="701" r="2.4" fill="#000"/>
<circle cx="549.3" cy="709.6" r="2.4" fill="#000"/>
<circle cx="557.8" cy="708.8" r="2.4" fill="#000"/>
<circle cx="557.8" cy="711.5" r="2.4" fill="#000"/>
<circle cx="557.8" cy="714.6" r="2.4" fill="#000"/>
<circle cx="565.9" cy="714.6" r="2.4" fill="#000"/>
<circle cx="547" cy="718.5" r="2.4" fill="#000"/>
<circle cx="551.1" cy="720.1" r="2.4" fill="#000"/>
<circle cx="565.5" cy="719.9" r="2.4" fill="#000"/>
<circle cx="565.5" cy="724.6" r="2.4" fill="#000"/>
<circle cx="547" cy="725.7" r="2.4" fill="#000"/>
<circle cx="547.2" cy="729" r="2.4" fill="#000"/>
<circle cx="569.8" cy="733.9" r="2.4" fill="#000"/>
<circle cx="573.3" cy="733.9" r="2.4" fill="#000"/>
<circle cx="571.8" cy="738.8" r="2.4" fill="#000"/>
<circle cx="547.2" cy="742.7" r="2.4" fill="#000"/>
<circle cx="561" cy="743.8" r="2.4" fill="#000"/>
<circle cx="563.4" cy="744.4" r="2.4" fill="#000"/>
<circle cx="477.7" cy="748.3" r="2.4" fill="#000"/>
<circle cx="482.4" cy="749.1" r="2.4" fill="#000"/>
<circle cx="480" cy="751.8" r="2.4" fill="#000"/>
<circle cx="494.1" cy="749.7" r="2.4" fill="#000"/>
<circle cx="497" cy="749.7" r="2.4" fill="#000"/>
<circle cx="467.8" cy="755.5" r="2.4" fill="#000"/>
<circle cx="471.3" cy="754.4" r="2.4" fill="#000"/>
<circle cx="468.4" cy="759" r="2.4" fill="#000"/>
<circle cx="470.9" cy="758.1" r="2.4" fill="#000"/>
<circle cx="477.9" cy="757.9" r="2.4" fill="#000"/>
<circle cx="470.5" cy="765.1" r="2.4" fill="#000"/>
<circle cx="511" cy="756.9" r="2.4" fill="#000"/>
<circle cx="514.8" cy="761.1" r="2.4" fill="#000"/>
<circle cx="500.5" cy="763.1" r="2.4" fill="#000"/>
<circle cx="498.1" cy="769.3" r="2.4" fill="#000"/>
<circle cx="488.2" cy="770.7" r="2.4" fill="#000"/>
<circle cx="491.7" cy="769.8" r="2.4" fill="#000"/>
<circle cx="488.2" cy="774.8" r="2.4" fill="#000"/>
<circle cx="493.1" cy="778.6" r="2.4" fill="#000"/>
<circle cx="506.3" cy="768.9" r="2.4" fill="#000"/>
<circle cx="507.5" cy="772.5" r="2.4" fill="#000"/>
<circle cx="507.5" cy="775.1" r="2.4" fill="#000"/>
<circle cx="512.5" cy="770.9" r="2.4" fill="#000"/>
<circle cx="507.5" cy="781.8" r="2.4" fill="#000"/>
<circle cx="462.8" cy="772.7" r="2.4" fill="#000"/>
<circle cx="461.9" cy="779.1" r="2.4" fill="#000"/>
<circle cx="465.1" cy="779.1" r="2.4" fill="#000"/>
<circle cx="463.7" cy="783.5" r="2.4" fill="#000"/>
<circle cx="461.4" cy="786.5" r="2.4" fill="#000"/>
<circle cx="464.3" cy="787.6" r="2.4" fill="#000"/>
<circle cx="474" cy="779.1" r="2.4" fill="#000"/>
<circle cx="480" cy="778.9" r="2.4" fill="#000"/>
<circle cx="489.1" cy="785.6" r="2.4" fill="#000"/>
<circle cx="470.1" cy="789.6" r="2.4" fill="#000"/>
<circle cx="475.9" cy="794.9" r="2.4" fill="#000"/>
<circle cx="479.8" cy="795.8" r="2.4" fill="#000"/>
<circle cx="482.4" cy="797.8" r="2.4" fill="#000"/>
<circle cx="493.8" cy="794.1" r="2.4" fill="#000"/>
<circle cx="502.2" cy="792.9" r="2.4" fill="#000"/>
<circle cx="500.5" cy="799" r="2.4" fill="#000"/>
<circle cx="516.2" cy="787.1" r="2.4" fill="#000"/>
<circle cx="518.3" cy="785" r="2.4" fill="#000"/>
<circle cx="523.5" cy="782.4" r="2.4" fill="#000"/>
<circle cx="465.1" cy="800.5" r="2.4" fill="#000"/>
<circle cx="470.1" cy="801.1" r="2.4" fill="#000"/>
<circle cx="471.9" cy="803.4" r="2.4" fill="#000"/>
<circle cx="475.1" cy="804.8" r="2.4" fill="#000"/>
<circle cx="460" cy="804.8" r="2.4" fill="#000"/>
<circle cx="569.1" cy="746.2" r="2.4" fill="#000"/>
<circle cx="577.2" cy="747.6" r="2.4" fill="#000"/>
<circle cx="534.2" cy="754.6" r="2.4" fill="#000"/>
<circle cx="538.9" cy="756.5" r="2.4" fill="#000"/>
<circle cx="538.9" cy="761.1" r="2.4" fill="#000"/>
<circle cx="532.3" cy="761.9" r="2.4" fill="#000"/>
<circle cx="548.6" cy="761.1" r="2.4" fill="#000"/>
<circle cx="560.6" cy="758.1" r="2.4" fill="#000"/>
<circle cx="570.8" cy="754.6" r="2.4" fill="#000"/>
<circle cx="577" cy="753" r="2.4" fill="#000"/>
<circle cx="571.6" cy="760.2" r="2.4" fill="#000"/>
<circle cx="557.1" cy="765.4" r="2.4" fill="#000"/>
<circle cx="554.8" cy="768.6" r="2.4" fill="#000"/>
<circle cx="577.5" cy="767" r="2.4" fill="#000"/>
<circle cx="586" cy="770.5" r="2.4" fill="#000"/>
<circle cx="572.8" cy="769.5" r="2.4" fill="#000"/>
<circle cx="571.6" cy="772.5" r="2.4" fill="#000"/>
<circle cx="570.2" cy="775.6" r="2.4" fill="#000"/>
<circle cx="529.8" cy="772.5" r="2.4" fill="#000"/>
<circle cx="554.8" cy="775.4" r="2.4" fill="#000"/>
<circle cx="558" cy="776" r="2.4" fill="#000"/>
<circle cx="553.9" cy="779.5" r="2.4" fill="#000"/>
<circle cx="565.3" cy="779.8" r="2.4" fill="#000"/>
<circle cx="566.1" cy="782.4" r="2.4" fill="#000"/>
<circle cx="568.1" cy="785" r="2.4" fill="#000"/>
<circle cx="573.5" cy="780" r="2.4" fill="#000"/>
<circle cx="529.8" cy="781.4" r="2.4" fill="#000"/>
<circle cx="580.5" cy="784.7" r="2.4" fill="#000"/>
<circle cx="591" cy="787.1" r="2.4" fill="#000"/>
<circle cx="545.1" cy="790" r="2.4" fill="#000"/>
<circle cx="547.1" cy="795.2" r="2.4" fill="#000"/>
<circle cx="556.8" cy="794.6" r="2.4" fill="#000"/>
<circle cx="554.5" cy="797" r="2.4" fill="#000"/>
<circle cx="552.7" cy="798.7" r="2.4" fill="#000"/>
<circle cx="578.4" cy="790.6" r="2.4" fill="#000"/>
<circle cx="580.7" cy="792.9" r="2.4" fill="#000"/>
<circle cx="580.5" cy="801.6" r="2.4" fill="#000"/>
<circle cx="609.7" cy="799.1" r="2.4" fill="#000"/>
<circle cx="627.9" cy="804.4" r="2.4" fill="#000"/>
<line x1="405" y1="815.3" x2="681" y2="815.3" stroke="#3c3c3c" stroke-width="1.2"/>
<line x1="428" y1="815.3" x2="428" y2="818.6" stroke="#3c3c3c" stroke-width="1.1"/>
<line x1="474" y1="815.3" x2="474" y2="818.6" stroke="#3c3c3c" stroke-width="1.1"/>
<line x1="520" y1="815.3" x2="520" y2="818.6" stroke="#3c3c3c" stroke-width="1.1"/>
<line x1="566" y1="815.3" x2="566" y2="818.6" stroke="#3c3c3c" stroke-width="1.1"/>
<line x1="612" y1="815.3" x2="612" y2="818.6" stroke="#3c3c3c" stroke-width="1.1"/>
<line x1="658" y1="815.3" x2="658" y2="818.6" stroke="#3c3c3c" stroke-width="1.1"/>
<line x1="405" y1="815.3" x2="405" y2="817.5" stroke="#3c3c3c" stroke-width="1.1"/>
<line x1="451" y1="815.3" x2="451" y2="817.5" stroke="#3c3c3c" stroke-width="1.1"/>
<line x1="497" y1="815.3" x2="497" y2="817.5" stroke="#3c3c3c" stroke-width="1.1"/>
<line x1="543" y1="815.3" x2="543" y2="817.5" stroke="#3c3c3c" stroke-width="1.1"/>
<line x1="589" y1="815.3" x2="589" y2="817.5" stroke="#3c3c3c" stroke-width="1.1"/>
<line x1="635" y1="815.3" x2="635" y2="817.5" stroke="#3c3c3c" stroke-width="1.1"/>
<line x1="681" y1="815.3" x2="681" y2="817.5" stroke="#3c3c3c" stroke-width="1.1"/>
<rect x="611.4" y="578.4" width="51.4" height="14.4" fill="#fff" stroke="#d0d0d0" stroke-width="0.8"/>
<rect x="612" y="579" width="28.3" height="13.2" fill="#ff8a00" stroke="#222" stroke-width="1.2"/>
<line x1="430.5" y1="883" x2="430.5" y2="1104" stroke="#efefef" stroke-width="0.8"/>
<line x1="466.07" y1="883" x2="466.07" y2="1104" stroke="#efefef" stroke-width="0.8"/>
<line x1="501.65" y1="883" x2="501.65" y2="1104" stroke="#efefef" stroke-width="0.8"/>
<line x1="537.22" y1="883" x2="537.22" y2="1104" stroke="#efefef" stroke-width="0.8"/>
<line x1="572.8" y1="883" x2="572.8" y2="1104" stroke="#efefef" stroke-width="0.8"/>
<line x1="608.37" y1="883" x2="608.37" y2="1104" stroke="#efefef" stroke-width="0.8"/>
<line x1="643.95" y1="883" x2="643.95" y2="1104" stroke="#efefef" stroke-width="0.8"/>
<line x1="394.9" y1="892.5" x2="661.7" y2="892.5" stroke="#efefef" stroke-width="0.8"/>
<line x1="394.9" y1="993" x2="661.7" y2="993" stroke="#efefef" stroke-width="0.8"/>
<line x1="394.9" y1="1093.4" x2="661.7" y2="1093.4" stroke="#efefef" stroke-width="0.8"/>
<path d="M430.87,1093.4 L430.87,1007.08 L431.12,1005.83 L431.38,1004.59 L431.66,1003.35 L431.95,1002.12 L432.24,1000.89 L432.55,999.67 L432.87,998.45 L433.2,997.24 L433.53,996.03 L433.87,994.82 L434.23,993.62 L434.58,992.42 L434.95,991.23 L435.32,990.04 L435.7,988.85 L436.08,987.66 L436.47,986.48 L436.86,985.3 L437.26,984.13 L437.66,982.96 L438.06,981.79 L438.46,980.62 L438.87,979.45 L439.28,978.29 L439.69,977.13 L440.1,975.97 L440.51,974.81 L440.92,973.65 L441.33,972.49 L441.73,971.34 L442.14,970.19 L442.54,969.03 L442.94,967.88 L443.34,966.73 L443.73,965.57 L444.12,964.42 L444.51,963.27 L444.89,962.12 L445.26,960.97 L445.63,959.81 L445.99,958.66 L446.34,957.5 L446.69,956.35 L447.03,955.19 L447.37,954.03 L447.7,952.88 L448.03,951.71 L448.35,950.55 L448.67,949.39 L448.99,948.22 L449.3,947.05 L449.61,945.88 L449.93,944.71 L450.24,943.53 L450.55,942.35 L450.86,941.17 L451.18,939.99 L451.49,938.8 L451.81,937.61 L452.13,936.41 L452.45,935.21 L452.78,934.01 L453.11,932.8 L453.45,931.59 L453.79,930.37 L454.14,929.15 L454.49,927.93 L454.86,926.7 L455.23,925.47 L455.6,924.23 L455.99,922.98 L456.39,921.73 L456.79,920.47 L457.21,919.21 L457.64,917.95 L458.08,916.69 L458.53,915.43 L459,914.17 L459.49,912.93 L459.99,911.69 L460.5,910.47 L461.04,909.27 L461.59,908.08 L462.17,906.92 L462.77,905.78 L463.38,904.67 L464.02,903.58 L464.69,902.54 L465.38,901.52 L466.09,900.55 L466.84,899.61 L467.61,898.72 L468.41,897.87 L469.23,897.09 L470.08,896.36 L470.95,895.72 L471.83,895.16 L472.73,894.7 L473.65,894.36 L474.56,894.13 L475.49,894.04 L476.41,894.09 L477.34,894.29 L478.26,894.62 L479.17,895.08 L480.07,895.64 L480.95,896.28 L481.82,897 L482.67,897.77 L483.5,898.58 L484.3,899.43 L485.08,900.3 L485.84,901.2 L486.57,902.12 L487.28,903.07 L487.97,904.04 L488.64,905.04 L489.28,906.06 L489.91,907.1 L490.53,908.16 L491.12,909.24 L491.7,910.33 L492.26,911.44 L492.8,912.57 L493.34,913.71 L493.85,914.87 L494.36,916.03 L494.85,917.21 L495.33,918.4 L495.8,919.6 L496.26,920.8 L496.71,922.02 L497.15,923.23 L497.58,924.46 L498,925.68 L498.42,926.91 L498.83,928.14 L499.24,929.37 L499.64,930.6 L500.04,931.83 L500.44,933.06 L500.83,934.28 L501.22,935.5 L501.61,936.72 L501.99,937.94 L502.37,939.15 L502.75,940.36 L503.13,941.57 L503.5,942.78 L503.87,943.98 L504.24,945.18 L504.61,946.38 L504.97,947.58 L505.34,948.77 L505.7,949.97 L506.05,951.16 L506.41,952.35 L506.77,953.54 L507.12,954.72 L507.47,955.91 L507.82,957.09 L508.17,958.27 L508.52,959.45 L508.86,960.63 L509.21,961.81 L509.55,962.98 L509.89,964.16 L510.23,965.33 L510.57,966.51 L510.91,967.68 L511.25,968.85 L511.59,970.02 L511.93,971.19 L512.26,972.35 L512.6,973.52 L512.93,974.69 L513.27,975.85 L513.6,977.02 L513.94,978.18 L514.27,979.35 L514.6,980.51 L514.94,981.68 L515.27,982.84 L515.6,984 L515.94,985.16 L516.27,986.33 L516.61,987.49 L516.94,988.65 L517.28,989.82 L517.61,990.98 L517.95,992.14 L518.28,993.31 L518.62,994.47 L518.96,995.63 L519.3,996.8 L519.64,997.96 L519.98,999.13 L520.32,1000.3 L520.67,1001.46 L521.01,1002.63 L521.36,1003.8 L521.7,1004.97 L522.05,1006.14 L522.4,1007.31 L522.76,1008.49 L523.11,1009.66 L523.47,1010.83 L523.82,1012.01 L524.18,1013.19 L524.54,1014.37 L524.91,1015.55 L525.27,1016.73 L525.64,1017.91 L526.01,1019.1 L526.38,1020.28 L526.75,1021.47 L527.13,1022.66 L527.51,1023.85 L527.89,1025.04 L528.28,1026.24 L528.66,1027.44 L529.05,1028.64 L529.45,1029.84 L529.84,1031.04 L530.24,1032.25 L530.65,1033.45 L531.05,1034.66 L531.47,1035.86 L531.88,1037.07 L532.3,1038.27 L532.73,1039.48 L533.16,1040.68 L533.6,1041.88 L534.04,1043.07 L534.5,1044.26 L534.95,1045.45 L535.42,1046.64 L535.89,1047.82 L536.37,1048.99 L536.86,1050.16 L537.35,1051.33 L537.85,1052.48 L538.37,1053.63 L538.89,1054.77 L539.42,1055.91 L539.96,1057.03 L540.51,1058.15 L541.07,1059.26 L541.65,1060.36 L542.23,1061.44 L542.82,1062.52 L543.43,1063.59 L544.05,1064.64 L544.67,1065.69 L545.32,1066.71 L545.97,1067.73 L546.64,1068.74 L547.32,1069.73 L548.01,1070.7 L548.72,1071.66 L549.44,1072.61 L550.18,1073.54 L550.93,1074.45 L551.7,1075.35 L552.48,1076.23 L553.28,1077.09 L554.09,1077.93 L554.92,1078.76 L555.77,1079.56 L556.63,1080.35 L557.51,1081.12 L558.41,1081.86 L559.33,1082.59 L560.26,1083.3 L561.21,1083.98 L562.19,1084.64 L563.18,1085.28 L564.18,1085.89 L565.21,1086.48 L566.26,1087.05 L567.33,1087.59 L568.42,1088.11 L569.53,1088.61 L570.66,1089.07 L571.81,1089.51 L572.99,1089.93 L574.18,1090.31 L575.4,1090.67 L576.64,1091 L577.91,1091.3 L579.19,1091.58 L580.5,1091.82 L581.84,1092.03 L583.19,1092.22 L584.58,1092.37 L585.98,1092.49 L587.41,1092.58 L588.87,1092.63 L590.35,1092.66 L590.35,1093.4 Z" fill="#ff8a00" stroke="none"/>
<path d="M430.87,1093.4 L430.87,1007.08 L431.12,1005.83 L431.38,1004.59 L431.66,1003.35 L431.95,1002.12 L432.24,1000.89 L432.55,999.67 L432.87,998.45 L433.2,997.24 L433.53,996.03 L433.87,994.82 L434.23,993.62 L434.58,992.42 L434.95,991.23 L435.32,990.04 L435.7,988.85 L436.08,987.66 L436.47,986.48 L436.86,985.3 L437.26,984.13 L437.66,982.96 L438.06,981.79 L438.46,980.62 L438.87,979.45 L439.28,978.29 L439.69,977.13 L440.1,975.97 L440.51,974.81 L440.92,973.65 L441.33,972.49 L441.73,971.34 L442.14,970.19 L442.54,969.03 L442.94,967.88 L443.34,966.73 L443.73,965.57 L444.12,964.42 L444.51,963.27 L444.89,962.12 L445.26,960.97 L445.63,959.81 L445.99,958.66 L446.34,957.5 L446.69,956.35 L447.03,955.19 L447.37,954.03 L447.7,952.88 L448.03,951.71 L448.35,950.55 L448.67,949.39 L448.99,948.22 L449.3,947.05 L449.61,945.88 L449.93,944.71 L450.24,943.53 L450.55,942.35 L450.86,941.17 L451.18,939.99 L451.49,938.8 L451.81,937.61 L452.13,936.41 L452.45,935.21 L452.78,934.01 L453.11,932.8 L453.45,931.59 L453.79,930.37 L454.14,929.15 L454.49,927.93 L454.86,926.7 L455.23,925.47 L455.6,924.23 L455.99,922.98 L456.39,921.73 L456.79,920.47 L457.21,919.21 L457.64,917.95 L458.08,916.69 L458.53,915.43 L459,914.17 L459.49,912.93 L459.99,911.69 L460.5,910.47 L461.04,909.27 L461.59,908.08 L462.17,906.92 L462.77,905.78 L463.38,904.67 L464.02,903.58 L464.69,902.54 L465.38,901.52 L466.09,900.55 L466.84,899.61 L467.61,898.72 L468.41,897.87 L469.23,897.09 L470.08,896.36 L470.95,895.72 L471.83,895.16 L472.73,894.7 L473.65,894.36 L474.56,894.13 L475.49,894.04 L476.41,894.09 L477.34,894.29 L478.26,894.62 L479.17,895.08 L480.07,895.64 L480.95,896.28 L481.82,897 L482.67,897.77 L483.5,898.58 L484.3,899.43 L485.08,900.3 L485.84,901.2 L486.57,902.12 L487.28,903.07 L487.97,904.04 L488.64,905.04 L489.28,906.06 L489.91,907.1 L490.53,908.16 L491.12,909.24 L491.7,910.33 L492.26,911.44 L492.8,912.57 L493.34,913.71 L493.85,914.87 L494.36,916.03 L494.85,917.21 L495.33,918.4 L495.8,919.6 L496.26,920.8 L496.71,922.02 L497.15,923.23 L497.58,924.46 L498,925.68 L498.42,926.91 L498.83,928.14 L499.24,929.37 L499.64,930.6 L500.04,931.83 L500.44,933.06 L500.83,934.28 L501.22,935.5 L501.61,936.72 L501.99,937.94 L502.37,939.15 L502.75,940.36 L503.13,941.57 L503.5,942.78 L503.87,943.98 L504.24,945.18 L504.61,946.38 L504.97,947.58 L505.34,948.77 L505.7,949.97 L506.05,951.16 L506.41,952.35 L506.77,953.54 L507.12,954.72 L507.47,955.91 L507.82,957.09 L508.17,958.27 L508.52,959.45 L508.86,960.63 L509.21,961.81 L509.55,962.98 L509.89,964.16 L510.23,965.33 L510.57,966.51 L510.91,967.68 L511.25,968.85 L511.59,970.02 L511.93,971.19 L512.26,972.35 L512.6,973.52 L512.93,974.69 L513.27,975.85 L513.6,977.02 L513.94,978.18 L514.27,979.35 L514.6,980.51 L514.94,981.68 L515.27,982.84 L515.6,984 L515.94,985.16 L516.27,986.33 L516.61,987.49 L516.94,988.65 L517.28,989.82 L517.61,990.98 L517.95,992.14 L518.28,993.31 L518.62,994.47 L518.96,995.63 L519.3,996.8 L519.64,997.96 L519.98,999.13 L520.32,1000.3 L520.67,1001.46 L521.01,1002.63 L521.36,1003.8 L521.7,1004.97 L522.05,1006.14 L522.4,1007.31 L522.76,1008.49 L523.11,1009.66 L523.47,1010.83 L523.82,1012.01 L524.18,1013.19 L524.54,1014.37 L524.91,1015.55 L525.27,1016.73 L525.64,1017.91 L526.01,1019.1 L526.38,1020.28 L526.75,1021.47 L527.13,1022.66 L527.51,1023.85 L527.89,1025.04 L528.28,1026.24 L528.66,1027.44 L529.05,1028.64 L529.45,1029.84 L529.84,1031.04 L530.24,1032.25 L530.65,1033.45 L531.05,1034.66 L531.47,1035.86 L531.88,1037.07 L532.3,1038.27 L532.73,1039.48 L533.16,1040.68 L533.6,1041.88 L534.04,1043.07 L534.5,1044.26 L534.95,1045.45 L535.42,1046.64 L535.89,1047.82 L536.37,1048.99 L536.86,1050.16 L537.35,1051.33 L537.85,1052.48 L538.37,1053.63 L538.89,1054.77 L539.42,1055.91 L539.96,1057.03 L540.51,1058.15 L541.07,1059.26 L541.65,1060.36 L542.23,1061.44 L542.82,1062.52 L543.43,1063.59 L544.05,1064.64 L544.67,1065.69 L545.32,1066.71 L545.97,1067.73 L546.64,1068.74 L547.32,1069.73 L548.01,1070.7 L548.72,1071.66 L549.44,1072.61 L550.18,1073.54 L550.93,1074.45 L551.7,1075.35 L552.48,1076.23 L553.28,1077.09 L554.09,1077.93 L554.92,1078.76 L555.77,1079.56 L556.63,1080.35 L557.51,1081.12 L558.41,1081.86 L559.33,1082.59 L560.26,1083.3 L561.21,1083.98 L562.19,1084.64 L563.18,1085.28 L564.18,1085.89 L565.21,1086.48 L566.26,1087.05 L567.33,1087.59 L568.42,1088.11 L569.53,1088.61 L570.66,1089.07 L571.81,1089.51 L572.99,1089.93 L574.18,1090.31 L575.4,1090.67 L576.64,1091 L577.91,1091.3 L579.19,1091.58 L580.5,1091.82 L581.84,1092.03 L583.19,1092.22 L584.58,1092.37 L585.98,1092.49 L587.41,1092.58 L588.87,1092.63 L590.35,1092.66 L590.35,1093.4" fill="none" stroke="#111" stroke-width="1.2"/>
<circle cx="485" cy="906.4" r="2.4" fill="#000"/>
<circle cx="462.8" cy="908.7" r="2.4" fill="#000"/>
<circle cx="463.1" cy="911.6" r="2.4" fill="#000"/>
<circle cx="465.7" cy="913.9" r="2.4" fill="#000"/>
<circle cx="466.9" cy="918" r="2.4" fill="#000"/>
<circle cx="470.1" cy="917.4" r="2.4" fill="#000"/>
<circle cx="473.3" cy="912.2" r="2.4" fill="#000"/>
<circle cx="491.2" cy="917.8" r="2.4" fill="#000"/>
<circle cx="490.2" cy="921.5" r="2.4" fill="#000"/>
<circle cx="468" cy="926.8" r="2.4" fill="#000"/>
<circle cx="488.1" cy="930.3" r="2.4" fill="#000"/>
<circle cx="458.1" cy="933.2" r="2.4" fill="#000"/>
<circle cx="490.5" cy="937.3" r="2.4" fill="#000"/>
<circle cx="455" cy="939.1" r="2.4" fill="#000"/>
<circle cx="455.4" cy="945.5" r="2.4" fill="#000"/>
<circle cx="463.9" cy="945.5" r="2.4" fill="#000"/>
<circle cx="470.1" cy="949.6" r="2.4" fill="#000"/>
<circle cx="481.8" cy="948.2" r="2.4" fill="#000"/>
<circle cx="497" cy="948.2" r="2.4" fill="#000"/>
<circle cx="499.6" cy="946.6" r="2.4" fill="#000"/>
<circle cx="449.3" cy="951.3" r="2.4" fill="#000"/>
<circle cx="453.1" cy="954.2" r="2.4" fill="#000"/>
<circle cx="458.5" cy="951" r="2.4" fill="#000"/>
<circle cx="492.6" cy="953.1" r="2.4" fill="#000"/>
<circle cx="492.8" cy="956.3" r="2.4" fill="#000"/>
<circle cx="486.9" cy="957.5" r="2.4" fill="#000"/>
<circle cx="504.2" cy="961.8" r="2.4" fill="#000"/>
<circle cx="457.5" cy="959.1" r="2.4" fill="#000"/>
<circle cx="455.4" cy="960.7" r="2.4" fill="#000"/>
<circle cx="448.8" cy="964.7" r="2.4" fill="#000"/>
<circle cx="452.3" cy="963.3" r="2.4" fill="#000"/>
<circle cx="453.8" cy="965.3" r="2.4" fill="#000"/>
<circle cx="470.1" cy="966.1" r="2.4" fill="#000"/>
<circle cx="451.1" cy="967.7" r="2.4" fill="#000"/>
<circle cx="447.6" cy="969.4" r="2.4" fill="#000"/>
<circle cx="459.9" cy="970" r="2.4" fill="#000"/>
<circle cx="479.7" cy="970" r="2.4" fill="#000"/>
<circle cx="485" cy="970" r="2.4" fill="#000"/>
<circle cx="507.2" cy="969.4" r="2.4" fill="#000"/>
<circle cx="452.8" cy="970.3" r="2.4" fill="#000"/>
<circle cx="459.3" cy="973.2" r="2.4" fill="#000"/>
<circle cx="442.6" cy="972.6" r="2.4" fill="#000"/>
<circle cx="448.8" cy="976.1" r="2.4" fill="#000"/>
<circle cx="484.6" cy="975.5" r="2.4" fill="#000"/>
<circle cx="480.6" cy="977.3" r="2.4" fill="#000"/>
<circle cx="466.8" cy="982.8" r="2.4" fill="#000"/>
<circle cx="478.8" cy="984.3" r="2.4" fill="#000"/>
<circle cx="475.3" cy="986.6" r="2.4" fill="#000"/>
<circle cx="473.8" cy="987.8" r="2.4" fill="#000"/>
<circle cx="439.7" cy="986" r="2.4" fill="#000"/>
<circle cx="437.3" cy="990.7" r="2.4" fill="#000"/>
<circle cx="441.8" cy="991.3" r="2.4" fill="#000"/>
<circle cx="444.4" cy="993" r="2.4" fill="#000"/>
<circle cx="447.3" cy="993" r="2.4" fill="#000"/>
<circle cx="450.8" cy="994.8" r="2.4" fill="#000"/>
<circle cx="445.5" cy="996.5" r="2.4" fill="#000"/>
<circle cx="454.9" cy="998.3" r="2.4" fill="#000"/>
<circle cx="462.1" cy="994.4" r="2.4" fill="#000"/>
<circle cx="464.4" cy="998.3" r="2.4" fill="#000"/>
<circle cx="462.8" cy="1001.8" r="2.4" fill="#000"/>
<circle cx="438.5" cy="999.5" r="2.4" fill="#000"/>
<circle cx="443.2" cy="1001.8" r="2.4" fill="#000"/>
<circle cx="447.3" cy="1001.8" r="2.4" fill="#000"/>
<circle cx="452.5" cy="1002.4" r="2.4" fill="#000"/>
<circle cx="455.4" cy="1003" r="2.4" fill="#000"/>
<circle cx="452.5" cy="1005.3" r="2.4" fill="#000"/>
<circle cx="436.4" cy="1006.1" r="2.4" fill="#000"/>
<circle cx="472.4" cy="999.8" r="2.4" fill="#000"/>
<circle cx="476.5" cy="1003.3" r="2.4" fill="#000"/>
<circle cx="489" cy="1003" r="2.4" fill="#000"/>
<circle cx="497.8" cy="1001.4" r="2.4" fill="#000"/>
<circle cx="501" cy="993.3" r="2.4" fill="#000"/>
<circle cx="506" cy="1004.7" r="2.4" fill="#000"/>
<circle cx="499.5" cy="1008.2" r="2.4" fill="#000"/>
<circle cx="487.6" cy="1011.5" r="2.4" fill="#000"/>
<circle cx="464.2" cy="1006.5" r="2.4" fill="#000"/>
<circle cx="469.1" cy="1010" r="2.4" fill="#000"/>
<circle cx="441.4" cy="1008.2" r="2.4" fill="#000"/>
<circle cx="443.2" cy="1011.1" r="2.4" fill="#000"/>
<circle cx="446.9" cy="1009.4" r="2.4" fill="#000"/>
<circle cx="457" cy="1008.8" r="2.4" fill="#000"/>
<circle cx="459.3" cy="1008.8" r="2.4" fill="#000"/>
<circle cx="457" cy="1012.3" r="2.4" fill="#000"/>
<circle cx="469.8" cy="1017" r="2.4" fill="#000"/>
<circle cx="469.8" cy="1019.3" r="2.4" fill="#000"/>
<circle cx="446.9" cy="1017" r="2.4" fill="#000"/>
<circle cx="442.6" cy="1019.3" r="2.4" fill="#000"/>
<circle cx="450.8" cy="1019.9" r="2.4" fill="#000"/>
<circle cx="450.8" cy="1022.2" r="2.4" fill="#000"/>
<circle cx="436.4" cy="1028.1" r="2.4" fill="#000"/>
<circle cx="449.6" cy="1028.6" r="2.4" fill="#000"/>
<circle cx="453.1" cy="1028.6" r="2.4" fill="#000"/>
<circle cx="456.6" cy="1028.1" r="2.4" fill="#000"/>
<circle cx="471" cy="1028.1" r="2.4" fill="#000"/>
<circle cx="447.3" cy="1032.5" r="2.4" fill="#000"/>
<circle cx="495.2" cy="1032.7" r="2.4" fill="#000"/>
<circle cx="508.5" cy="1024" r="2.4" fill="#000"/>
<circle cx="509" cy="1035.2" r="2.4" fill="#000"/>
<circle cx="482" cy="1037.4" r="2.4" fill="#000"/>
<circle cx="443.8" cy="1039.2" r="2.4" fill="#000"/>
<circle cx="449" cy="1038" r="2.4" fill="#000"/>
<circle cx="448.8" cy="1041.5" r="2.4" fill="#000"/>
<circle cx="456.3" cy="1040" r="2.4" fill="#000"/>
<circle cx="463" cy="1044.4" r="2.4" fill="#000"/>
<circle cx="470.6" cy="1044.4" r="2.4" fill="#000"/>
<circle cx="482" cy="1044.4" r="2.4" fill="#000"/>
<circle cx="512.7" cy="1009.8" r="2.4" fill="#000"/>
<circle cx="515.3" cy="1011.1" r="2.4" fill="#000"/>
<circle cx="517.8" cy="1006.7" r="2.4" fill="#000"/>
<circle cx="523.2" cy="1025.4" r="2.4" fill="#000"/>
<circle cx="522.2" cy="1034.3" r="2.4" fill="#000"/>
<circle cx="522.7" cy="1039.7" r="2.4" fill="#000"/>
<circle cx="448.4" cy="1044.3" r="2.4" fill="#000"/>
<circle cx="457" cy="1046.4" r="2.4" fill="#000"/>
<circle cx="478.2" cy="1046.1" r="2.4" fill="#000"/>
<circle cx="483.8" cy="1046.7" r="2.4" fill="#000"/>
<circle cx="486.4" cy="1048.4" r="2.4" fill="#000"/>
<circle cx="479.2" cy="1051.9" r="2.4" fill="#000"/>
<circle cx="479.2" cy="1055.8" r="2.4" fill="#000"/>
<circle cx="482" cy="1056.6" r="2.4" fill="#000"/>
<circle cx="465.1" cy="1051.9" r="2.4" fill="#000"/>
<circle cx="454.3" cy="1053.5" r="2.4" fill="#000"/>
<circle cx="458.9" cy="1056" r="2.4" fill="#000"/>
<circle cx="444.9" cy="1057.2" r="2.4" fill="#000"/>
<circle cx="449.6" cy="1058.4" r="2.4" fill="#000"/>
<circle cx="451.1" cy="1060.5" r="2.4" fill="#000"/>
<circle cx="473.8" cy="1059.5" r="2.4" fill="#000"/>
<circle cx="462.8" cy="1061.6" r="2.4" fill="#000"/>
<circle cx="466.5" cy="1062.8" r="2.4" fill="#000"/>
<circle cx="461.6" cy="1065.4" r="2.4" fill="#000"/>
<circle cx="437.3" cy="1065.6" r="2.4" fill="#000"/>
<circle cx="441.1" cy="1066.3" r="2.4" fill="#000"/>
<circle cx="445.5" cy="1063.3" r="2.4" fill="#000"/>
<circle cx="478.8" cy="1066.3" r="2.4" fill="#000"/>
<circle cx="502.5" cy="1063.6" r="2.4" fill="#000"/>
<circle cx="459.3" cy="1073" r="2.4" fill="#000"/>
<circle cx="463.3" cy="1071.4" r="2.4" fill="#000"/>
<circle cx="461.3" cy="1074.1" r="2.4" fill="#000"/>
<circle cx="456" cy="1077" r="2.4" fill="#000"/>
<circle cx="456.6" cy="1079.4" r="2.4" fill="#000"/>
<circle cx="476.8" cy="1076.5" r="2.4" fill="#000"/>
<circle cx="465.1" cy="1081.1" r="2.4" fill="#000"/>
<circle cx="472.6" cy="1081.1" r="2.4" fill="#000"/>
<circle cx="447.3" cy="1080.5" r="2.4" fill="#000"/>
<circle cx="446.1" cy="1085.2" r="2.4" fill="#000"/>
<circle cx="445.5" cy="1087.6" r="2.4" fill="#000"/>
<circle cx="436.4" cy="1087.3" r="2.4" fill="#000"/>
<circle cx="495.7" cy="1081.7" r="2.4" fill="#000"/>
<circle cx="504.8" cy="1093.2" r="2.4" fill="#000"/>
<circle cx="528.4" cy="1043.6" r="2.4" fill="#000"/>
<circle cx="533.3" cy="1045.8" r="2.4" fill="#000"/>
<circle cx="535.4" cy="1045.4" r="2.4" fill="#000"/>
<circle cx="533.3" cy="1051.9" r="2.4" fill="#000"/>
<circle cx="529.1" cy="1057.2" r="2.4" fill="#000"/>
<circle cx="530.2" cy="1063.4" r="2.4" fill="#000"/>
<circle cx="520.8" cy="1072.4" r="2.4" fill="#000"/>
<circle cx="533.3" cy="1078.3" r="2.4" fill="#000"/>
<circle cx="547.2" cy="1075.5" r="2.4" fill="#000"/>
<circle cx="542.3" cy="1083.8" r="2.4" fill="#000"/>
<circle cx="531.2" cy="1087" r="2.4" fill="#000"/>
<circle cx="531.9" cy="1090.5" r="2.4" fill="#000"/>
<circle cx="536.8" cy="1090.5" r="2.4" fill="#000"/>
<circle cx="524.7" cy="1090.8" r="2.4" fill="#000"/>
<circle cx="547.2" cy="1093" r="2.4" fill="#000"/>
<circle cx="554.8" cy="1087.7" r="2.4" fill="#000"/>
<circle cx="559.9" cy="1082.9" r="2.4" fill="#000"/>
<circle cx="561" cy="1086" r="2.4" fill="#000"/>
<circle cx="560.3" cy="1089.8" r="2.4" fill="#000"/>
<circle cx="565.9" cy="1093.3" r="2.4" fill="#000"/>
<circle cx="567.3" cy="1090.5" r="2.4" fill="#000"/>
<circle cx="571.8" cy="1091.2" r="2.4" fill="#000"/>
<circle cx="586" cy="1091.9" r="2.4" fill="#000"/>
<circle cx="606.7" cy="992.8" r="2.4" fill="#000"/>
<line x1="394.9" y1="1104" x2="661.7" y2="1104" stroke="#3c3c3c" stroke-width="1.2"/>
<line x1="394.93" y1="1104" x2="394.93" y2="1107.3" stroke="#3c3c3c" stroke-width="1.1"/>
<line x1="430.5" y1="1104" x2="430.5" y2="1107.3" stroke="#3c3c3c" stroke-width="1.1"/>
<line x1="466.07" y1="1104" x2="466.07" y2="1107.3" stroke="#3c3c3c" stroke-width="1.1"/>
<line x1="501.65" y1="1104" x2="501.65" y2="1107.3" stroke="#3c3c3c" stroke-width="1.1"/>
<line x1="537.22" y1="1104" x2="537.22" y2="1107.3" stroke="#3c3c3c" stroke-width="1.1"/>
<line x1="572.8" y1="1104" x2="572.8" y2="1107.3" stroke="#3c3c3c" stroke-width="1.1"/>
<line x1="608.37" y1="1104" x2="608.37" y2="1107.3" stroke="#3c3c3c" stroke-width="1.1"/>
<line x1="643.95" y1="1104" x2="643.95" y2="1107.3" stroke="#3c3c3c" stroke-width="1.1"/>
<line x1="412.71" y1="1104" x2="412.71" y2="1106.2" stroke="#3c3c3c" stroke-width="1.1"/>
<line x1="448.29" y1="1104" x2="448.29" y2="1106.2" stroke="#3c3c3c" stroke-width="1.1"/>
<line x1="483.86" y1="1104" x2="483.86" y2="1106.2" stroke="#3c3c3c" stroke-width="1.1"/>
<line x1="519.44" y1="1104" x2="519.44" y2="1106.2" stroke="#3c3c3c" stroke-width="1.1"/>
<line x1="555.01" y1="1104" x2="555.01" y2="1106.2" stroke="#3c3c3c" stroke-width="1.1"/>
<line x1="590.59" y1="1104" x2="590.59" y2="1106.2" stroke="#3c3c3c" stroke-width="1.1"/>
<line x1="626.16" y1="1104" x2="626.16" y2="1106.2" stroke="#3c3c3c" stroke-width="1.1"/>
<line x1="661.74" y1="1104" x2="661.74" y2="1106.2" stroke="#3c3c3c" stroke-width="1.1"/>
<rect x="601.1" y="876.1" width="55.7" height="13.4" fill="#fff" stroke="#d0d0d0" stroke-width="0.8"/>
<rect x="601.7" y="876.7" width="26.2" height="12.2" fill="#ff8a00" stroke="#222" stroke-width="1.2"/>
<g style="will-change:transform">
<text x="24.6" y="214.11" font-size="11.5" font-family="'Liberation Serif', serif" text-anchor="end" fill="#000" >0</text>
<text x="24.6" y="167.43" font-size="11.5" font-family="'Liberation Serif', serif" text-anchor="end" fill="#000" >5</text>
<text x="24.6" y="120.76" font-size="11.5" font-family="'Liberation Serif', serif" text-anchor="end" fill="#000" >10</text>
<text x="24.6" y="74.08" font-size="11.5" font-family="'Liberation Serif', serif" text-anchor="end" fill="#000" >15</text>
<text x="24.6" y="27.41" font-size="11.5" font-family="'Liberation Serif', serif" text-anchor="end" fill="#000" >20</text>
<text x="29.6" y="224.21" font-size="11.5" font-family="'Liberation Serif', serif" text-anchor="middle" fill="#000" >200</text>
<text x="81.55" y="224.21" font-size="11.5" font-family="'Liberation Serif', serif" text-anchor="middle" fill="#000" >400</text>
<text x="133.49" y="224.21" font-size="11.5" font-family="'Liberation Serif', serif" text-anchor="middle" fill="#000" >600</text>
<text x="185.44" y="224.21" font-size="11.5" font-family="'Liberation Serif', serif" text-anchor="middle" fill="#000" >800</text>
<text x="237.38" y="224.21" font-size="11.5" font-family="'Liberation Serif', serif" text-anchor="middle" fill="#000" >1000</text>
<text x="289.33" y="224.21" font-size="11.5" font-family="'Liberation Serif', serif" text-anchor="middle" fill="#000" >1200</text>
<text x="172.5" y="243.6" font-size="12.25" font-family="'Liberation Serif', serif" text-anchor="middle" fill="#000">Distance (m)</text>
<text x="0" y="0" font-size="13" font-family="'Liberation Serif', serif" text-anchor="middle" fill="#000" textLength="29.3" lengthAdjust="spacingAndGlyphs" transform="translate(9,105.1) rotate(-90)">Count</text>
<text x="63.1" y="13.8" font-size="11.6" font-family="'Liberation Serif', serif" text-anchor="start" fill="#000" >Distance</text>
<text x="66.3" y="504.42" font-size="12.4" font-family="'Liberation Serif', serif" text-anchor="end" fill="#000" >0</text>
<text x="66.3" y="463.01" font-size="12.4" font-family="'Liberation Serif', serif" text-anchor="end" fill="#000" >10</text>
<text x="66.3" y="421.6" font-size="12.4" font-family="'Liberation Serif', serif" text-anchor="end" fill="#000" >20</text>
<text x="66.3" y="380.19" font-size="12.4" font-family="'Liberation Serif', serif" text-anchor="end" fill="#000" >30</text>
<text x="66.3" y="338.78" font-size="12.4" font-family="'Liberation Serif', serif" text-anchor="end" fill="#000" >40</text>
<text x="66.3" y="297.37" font-size="12.4" font-family="'Liberation Serif', serif" text-anchor="end" fill="#000" >50</text>
<text x="117.83" y="515.02" font-size="12.4" font-family="'Liberation Serif', serif" text-anchor="middle" fill="#000" >1000</text>
<text x="176.38" y="515.02" font-size="12.4" font-family="'Liberation Serif', serif" text-anchor="middle" fill="#000" >1500</text>
<text x="234.92" y="515.02" font-size="12.4" font-family="'Liberation Serif', serif" text-anchor="middle" fill="#000" >2000</text>
<text x="293.46" y="515.02" font-size="12.4" font-family="'Liberation Serif', serif" text-anchor="middle" fill="#000" >2500</text>
<text x="352" y="515.02" font-size="12.4" font-family="'Liberation Serif', serif" text-anchor="middle" fill="#000" >3000</text>
<text x="211.2" y="534.3" font-size="12.2" font-family="'Liberation Serif', serif" text-anchor="middle" fill="#000">CPD (Kg)</text>
<text x="0" y="0" font-size="13" font-family="'Liberation Serif', serif" text-anchor="middle" fill="#000" textLength="29.4" lengthAdjust="spacingAndGlyphs" transform="translate(50,396.8) rotate(-90)">Count</text>
<text x="103.6" y="307.5" font-size="11.4" font-family="'Liberation Serif', serif" text-anchor="start" fill="#000" >CPD</text>
<text x="71.3" y="805.92" font-size="12.4" font-family="'Liberation Serif', serif" text-anchor="end" fill="#000" >0</text>
<text x="71.3" y="764.06" font-size="12.4" font-family="'Liberation Serif', serif" text-anchor="end" fill="#000" >10</text>
<text x="71.3" y="722.2" font-size="12.4" font-family="'Liberation Serif', serif" text-anchor="end" fill="#000" >20</text>
<text x="71.3" y="680.34" font-size="12.4" font-family="'Liberation Serif', serif" text-anchor="end" fill="#000" >30</text>
<text x="71.3" y="638.48" font-size="12.4" font-family="'Liberation Serif', serif" text-anchor="end" fill="#000" >40</text>
<text x="71.3" y="596.62" font-size="12.4" font-family="'Liberation Serif', serif" text-anchor="end" fill="#000" >50</text>
<text x="76.2" y="817.22" font-size="12.4" font-family="'Liberation Serif', serif" text-anchor="middle" fill="#000" >5</text>
<text x="111.38" y="817.22" font-size="12.4" font-family="'Liberation Serif', serif" text-anchor="middle" fill="#000" >10</text>
<text x="146.55" y="817.22" font-size="12.4" font-family="'Liberation Serif', serif" text-anchor="middle" fill="#000" >15</text>
<text x="181.73" y="817.22" font-size="12.4" font-family="'Liberation Serif', serif" text-anchor="middle" fill="#000" >20</text>
<text x="216.9" y="817.22" font-size="12.4" font-family="'Liberation Serif', serif" text-anchor="middle" fill="#000" >25</text>
<text x="252.08" y="817.22" font-size="12.4" font-family="'Liberation Serif', serif" text-anchor="middle" fill="#000" >30</text>
<text x="287.25" y="817.22" font-size="12.4" font-family="'Liberation Serif', serif" text-anchor="middle" fill="#000" >35</text>
<text x="322.43" y="817.22" font-size="12.4" font-family="'Liberation Serif', serif" text-anchor="middle" fill="#000" >40</text>
<text x="357.6" y="817.22" font-size="12.4" font-family="'Liberation Serif', serif" text-anchor="middle" fill="#000" >45</text>
<text x="217" y="834.4" font-size="12.4" font-family="'Liberation Serif', serif" text-anchor="middle" fill="#000">SD (m/kg<tspan font-size="8" dy="-4.5">1/2</tspan><tspan dy="4.5">)</tspan></text>
<text x="0" y="0" font-size="13" font-family="'Liberation Serif', serif" text-anchor="middle" fill="#000" textLength="31.2" lengthAdjust="spacingAndGlyphs" transform="translate(54.9,697) rotate(-90)">Count</text>
<text x="111.2" y="608.2" font-size="12.6" font-family="'Liberation Serif', serif" text-anchor="start" fill="#000" >SD</text>
<text x="70" y="1094.35" font-size="12.2" font-family="'Liberation Serif', serif" text-anchor="end" fill="#000" >0</text>
<text x="70" y="1065.36" font-size="12.2" font-family="'Liberation Serif', serif" text-anchor="end" fill="#000" >10</text>
<text x="70" y="1036.37" font-size="12.2" font-family="'Liberation Serif', serif" text-anchor="end" fill="#000" >20</text>
<text x="70" y="1007.38" font-size="12.2" font-family="'Liberation Serif', serif" text-anchor="end" fill="#000" >30</text>
<text x="70" y="978.39" font-size="12.2" font-family="'Liberation Serif', serif" text-anchor="end" fill="#000" >40</text>
<text x="70" y="949.4" font-size="12.2" font-family="'Liberation Serif', serif" text-anchor="end" fill="#000" >50</text>
<text x="70" y="920.41" font-size="12.2" font-family="'Liberation Serif', serif" text-anchor="end" fill="#000" >60</text>
<text x="70" y="891.42" font-size="12.2" font-family="'Liberation Serif', serif" text-anchor="end" fill="#000" >70</text>
<text x="75.3" y="1104.65" font-size="12.2" font-family="'Liberation Serif', serif" text-anchor="middle" fill="#000" >0</text>
<text x="128.57" y="1104.65" font-size="12.2" font-family="'Liberation Serif', serif" text-anchor="middle" fill="#000" >50</text>
<text x="181.84" y="1104.65" font-size="12.2" font-family="'Liberation Serif', serif" text-anchor="middle" fill="#000" >100</text>
<text x="235.11" y="1104.65" font-size="12.2" font-family="'Liberation Serif', serif" text-anchor="middle" fill="#000" >150</text>
<text x="288.38" y="1104.65" font-size="12.2" font-family="'Liberation Serif', serif" text-anchor="middle" fill="#000" >200</text>
<text x="341.65" y="1104.65" font-size="12.2" font-family="'Liberation Serif', serif" text-anchor="middle" fill="#000" >250</text>
<text x="206.8" y="1123" font-size="12.2" font-family="'Liberation Serif', serif" text-anchor="middle" fill="#000">PPV (mm/sec)</text>
<text x="0" y="0" font-size="13" font-family="'Liberation Serif', serif" text-anchor="middle" fill="#000" textLength="31.2" lengthAdjust="spacingAndGlyphs" transform="translate(51.9,980) rotate(-90)">Count</text>
<text x="109.9" y="889" font-size="12.2" font-family="'Liberation Serif', serif" text-anchor="start" fill="#000" >PPV</text>
<text x="393.1" y="242.6" font-size="10" font-family="'Liberation Sans', sans-serif" text-anchor="middle" fill="#222" >0</text>
<text x="424.58" y="242.6" font-size="10" font-family="'Liberation Sans', sans-serif" text-anchor="middle" fill="#222" >200</text>
<text x="456.05" y="242.6" font-size="10" font-family="'Liberation Sans', sans-serif" text-anchor="middle" fill="#222" >400</text>
<text x="487.52" y="242.6" font-size="10" font-family="'Liberation Sans', sans-serif" text-anchor="middle" fill="#222" >600</text>
<text x="519" y="242.6" font-size="10" font-family="'Liberation Sans', sans-serif" text-anchor="middle" fill="#222" >800</text>
<text x="550.48" y="242.6" font-size="10" font-family="'Liberation Sans', sans-serif" text-anchor="middle" fill="#222" >1000</text>
<text x="581.95" y="242.6" font-size="10" font-family="'Liberation Sans', sans-serif" text-anchor="middle" fill="#222" >1200</text>
<text x="613.42" y="242.6" font-size="10" font-family="'Liberation Sans', sans-serif" text-anchor="middle" fill="#222" >1400</text>
<text x="644.9" y="242.6" font-size="10" font-family="'Liberation Sans', sans-serif" text-anchor="middle" fill="#222" >1600</text>
<text x="341.8" y="221.08" font-size="11.6" font-family="'Liberation Sans', sans-serif" text-anchor="start" fill="#222" >Distance</text>
<text x="0" y="0" font-size="11.7" font-family="'Liberation Sans', sans-serif" fill="#222" transform="translate(603.8,11.9) scale(1,1.1)">Distance</text>
<text x="410.8" y="532.73" font-size="9.8" font-family="'Liberation Sans', sans-serif" text-anchor="middle" fill="#222" >0</text>
<text x="448.31" y="532.73" font-size="9.8" font-family="'Liberation Sans', sans-serif" text-anchor="middle" fill="#222" >500</text>
<text x="485.83" y="532.73" font-size="9.8" font-family="'Liberation Sans', sans-serif" text-anchor="middle" fill="#222" >1000</text>
<text x="523.34" y="532.73" font-size="9.8" font-family="'Liberation Sans', sans-serif" text-anchor="middle" fill="#222" >1500</text>
<text x="560.86" y="532.73" font-size="9.8" font-family="'Liberation Sans', sans-serif" text-anchor="middle" fill="#222" >2000</text>
<text x="598.37" y="532.73" font-size="9.8" font-family="'Liberation Sans', sans-serif" text-anchor="middle" fill="#222" >2500</text>
<text x="635.89" y="532.73" font-size="9.8" font-family="'Liberation Sans', sans-serif" text-anchor="middle" fill="#222" >3000</text>
<text x="673.4" y="532.73" font-size="9.8" font-family="'Liberation Sans', sans-serif" text-anchor="middle" fill="#222" >3500</text>
<text x="380.2" y="512.53" font-size="11.2" font-family="'Liberation Sans', sans-serif" text-anchor="start" fill="#222" >CPD</text>
<text x="0" y="0" font-size="11.7" font-family="'Liberation Sans', sans-serif" fill="#222" transform="translate(640.8,313.2) scale(1,1.1)">CPD</text>
<text x="428" y="832.92" font-size="12" font-family="'Liberation Sans', sans-serif" text-anchor="middle" fill="#222" >0</text>
<text x="474" y="832.92" font-size="12" font-family="'Liberation Sans', sans-serif" text-anchor="middle" fill="#222" >10</text>
<text x="520" y="832.92" font-size="12" font-family="'Liberation Sans', sans-serif" text-anchor="middle" fill="#222" >20</text>
<text x="566" y="832.92" font-size="12" font-family="'Liberation Sans', sans-serif" text-anchor="middle" fill="#222" >30</text>
<text x="612" y="832.92" font-size="12" font-family="'Liberation Sans', sans-serif" text-anchor="middle" fill="#222" >40</text>
<text x="658" y="832.92" font-size="12" font-family="'Liberation Sans', sans-serif" text-anchor="middle" fill="#222" >50</text>
<text x="379.7" y="809.16" font-size="12.4" font-family="'Liberation Sans', sans-serif" text-anchor="start" fill="#222" >SD</text>
<text x="0" y="0" font-size="12.2" font-family="'Liberation Sans', sans-serif" fill="#222" transform="translate(644.5,590.2) scale(1,1.1)">SD</text>
<text x="394.93" y="1119.24" font-size="10.1" font-family="'Liberation Sans', sans-serif" text-anchor="middle" fill="#222" >−50</text>
<text x="430.5" y="1119.24" font-size="10.1" font-family="'Liberation Sans', sans-serif" text-anchor="middle" fill="#222" >0</text>
<text x="466.07" y="1119.24" font-size="10.1" font-family="'Liberation Sans', sans-serif" text-anchor="middle" fill="#222" >50</text>
<text x="501.65" y="1119.24" font-size="10.1" font-family="'Liberation Sans', sans-serif" text-anchor="middle" fill="#222" >100</text>
<text x="537.22" y="1119.24" font-size="10.1" font-family="'Liberation Sans', sans-serif" text-anchor="middle" fill="#222" >150</text>
<text x="572.8" y="1119.24" font-size="10.1" font-family="'Liberation Sans', sans-serif" text-anchor="middle" fill="#222" >200</text>
<text x="608.37" y="1119.24" font-size="10.1" font-family="'Liberation Sans', sans-serif" text-anchor="middle" fill="#222" >250</text>
<text x="643.95" y="1119.24" font-size="10.1" font-family="'Liberation Sans', sans-serif" text-anchor="middle" fill="#222" >300</text>
<text x="365.5" y="1097.4" font-size="11.1" font-family="'Liberation Sans', sans-serif" text-anchor="start" fill="#222" >PPV</text>
<text x="0" y="0" font-size="11.85" font-family="'Liberation Sans', sans-serif" fill="#222" transform="translate(632.3,886.8) scale(1,1.1)">PPV</text>
</g>
</svg>
</body></html>
